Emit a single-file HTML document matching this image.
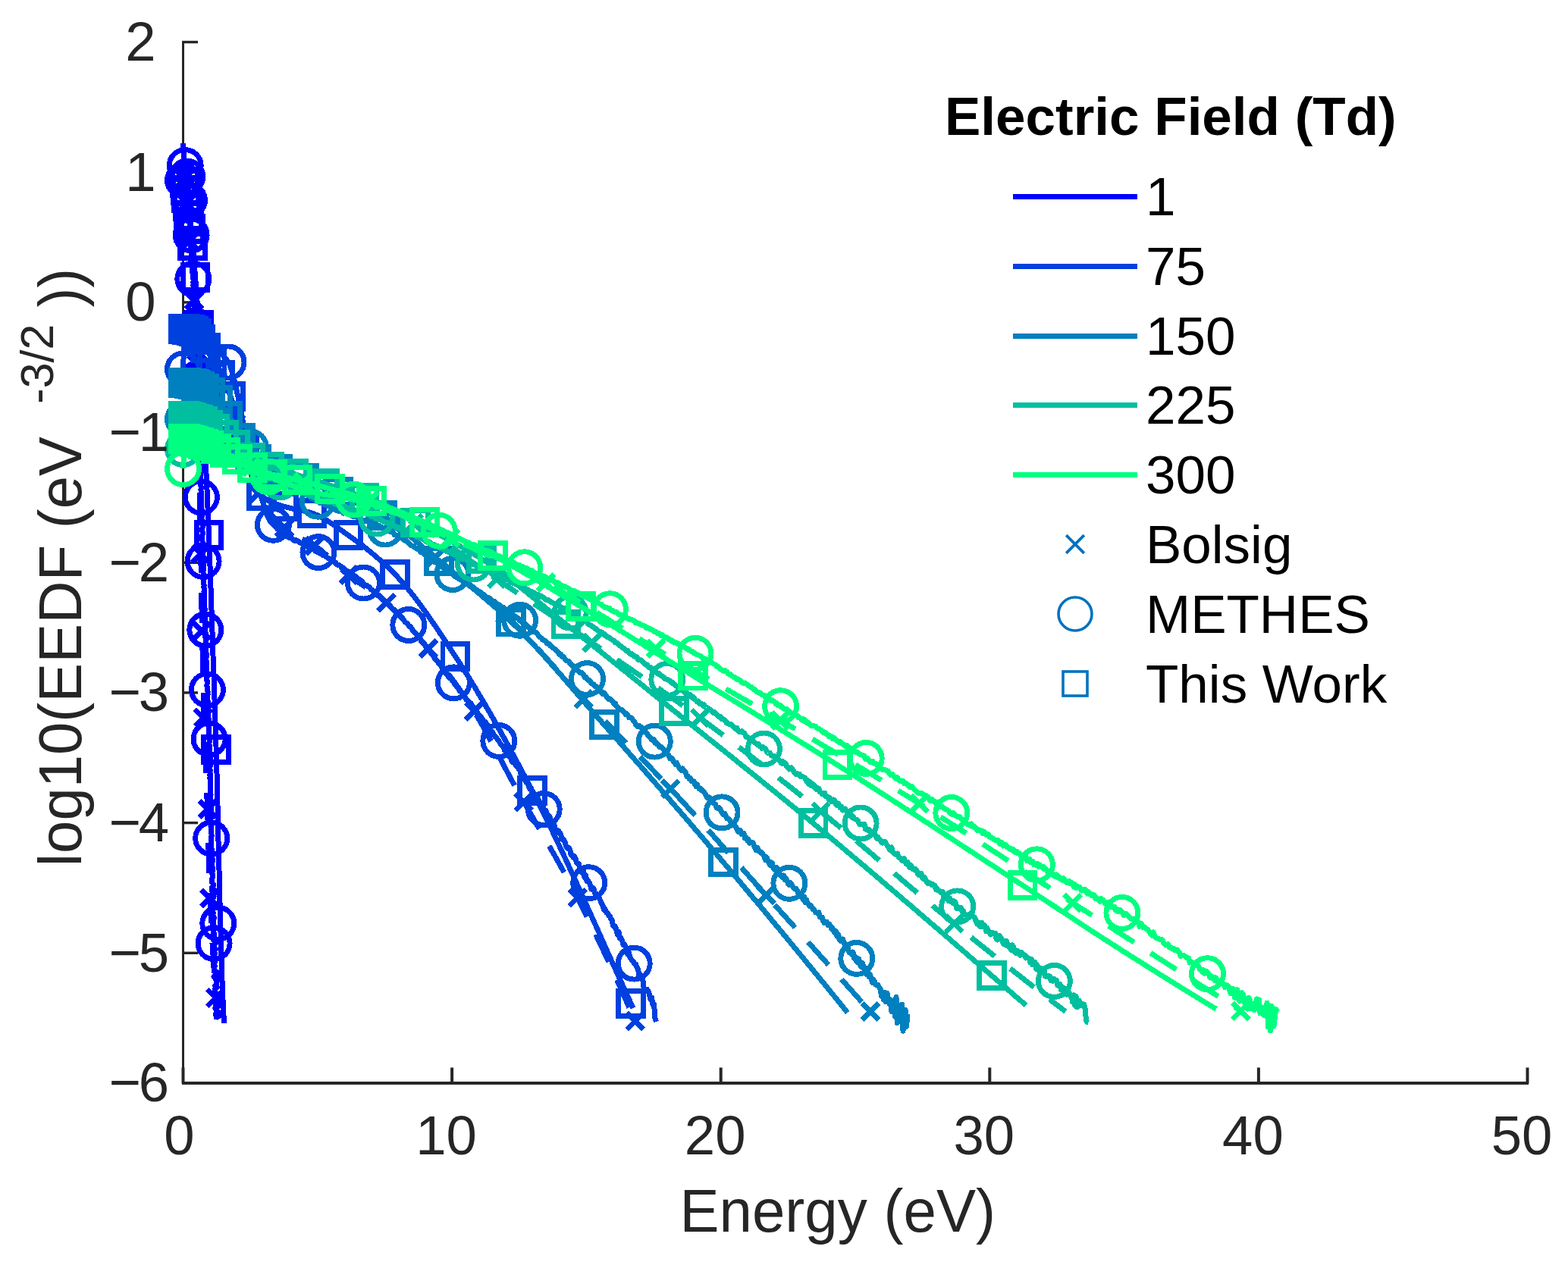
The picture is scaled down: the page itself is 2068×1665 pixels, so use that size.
<!DOCTYPE html>
<html><head><meta charset="utf-8"><title>EEDF</title>
<style>html,body{margin:0;padding:0;background:#fff;overflow:hidden}svg{display:block}</style>
</head><body>
<svg width="2068" height="1665" viewBox="0 0 2068 1665">
<rect width="2068" height="1665" fill="#fff"/>
<rect x="240" y="54" width="3" height="1377" fill="#262626"/>
<rect x="240" y="1427" width="1776" height="4" fill="#262626"/>
<rect x="240" y="53.8" width="21" height="3.4" fill="#262626"/>
<rect x="240" y="225.5" width="21" height="3.4" fill="#262626"/>
<rect x="240" y="397.2" width="21" height="3.4" fill="#262626"/>
<rect x="240" y="568.9" width="21" height="3.4" fill="#262626"/>
<rect x="240" y="740.6" width="21" height="3.4" fill="#262626"/>
<rect x="240" y="912.2" width="21" height="3.4" fill="#262626"/>
<rect x="240" y="1083.9" width="21" height="3.4" fill="#262626"/>
<rect x="240" y="1255.6" width="21" height="3.4" fill="#262626"/>
<rect x="240" y="1427.3" width="21" height="3.4" fill="#262626"/>
<rect x="239.5" y="1408.5" width="4" height="21" fill="#262626"/>
<rect x="594.1" y="1408.5" width="4" height="21" fill="#262626"/>
<rect x="948.7" y="1408.5" width="4" height="21" fill="#262626"/>
<rect x="1303.3" y="1408.5" width="4" height="21" fill="#262626"/>
<rect x="1657.9" y="1408.5" width="4" height="21" fill="#262626"/>
<rect x="2012.5" y="1408.5" width="4" height="21" fill="#262626"/>
<g fill="none" stroke-width="7" stroke-linejoin="round" shape-rendering="crispEdges">
<g><path d="M241.8 190 L241.9 193.9 L242.1 197.8 L242.2 201.6 L242.4 205.5 L242.6 209.4 L242.8 213.3 L243 217.2 L243.2 221 L243.4 224.9 L243.6 228.8 L243.8 232.7 L244 236.6 L244.3 240.4 L244.6 244.3 L244.9 248.2 L245.2 252.1 L245.5 256 L246 259.8 L246.4 263.7 L246.9 267.6 L247.4 271.5 L247.9 275.4 L248.4 279.2 L248.9 283.1 L249.3 287 L249.8 290.9 L250.3 294.7 L250.9 298.6 L251.4 302.5 L251.9 306.4 L252.4 310.3 L252.9 314.1 L253.3 318 L253.8 321.9 L254.2 325.8 L254.6 329.7 L254.9 333.5 L255.3 337.4 L255.6 341.3 L255.9 345.2 L256.3 349.1 L256.6 352.9 L256.9 356.8 L257.2 360.7 L257.5 364.6 L257.8 368.5 L258.1 372.3 L258.4 376.2 L258.7 380.1 L259 384 L259.3 387.9 L259.6 391.7 L259.9 395.6 L260.2 399.5 L260.4 403.4 L260.7 407.3 L261 411.1 L261.3 415 L261.5 418.9 L261.8 422.8 L262 426.7 L262.3 430.5 L262.5 434.4 L262.7 438.3 L263 442.2 L263.2 446.1 L263.4 449.9 L263.6 453.8 L263.8 457.7 L264.1 461.6 L264.3 465.5 L264.5 469.3 L264.7 473.2 L264.9 477.1 L265.1 481 L265.3 484.8 L265.5 488.7 L265.7 492.6 L265.9 496.5 L266.1 500.4 L266.3 504.2 L266.5 508.1 L266.7 512 L266.9 515.9 L267.1 519.8 L267.2 523.6 L267.4 527.5 L267.6 531.4 L267.8 535.3 L268 539.2 L268.2 543 L268.4 546.9 L268.6 550.8 L268.7 554.7 L268.9 558.6 L269.1 562.4 L269.3 566.3 L269.5 570.2 L269.7 574.1 L269.9 578 L270 581.8 L270.2 585.7 L270.4 589.6 L270.6 593.5 L270.8 597.4 L271 601.2 L271.1 605.1 L271.3 609 L271.5 612.9 L271.7 616.8 L271.9 620.6 L272 624.5 L272.2 628.4 L272.4 632.3 L272.6 636.2 L272.7 640 L272.9 643.9 L273.1 647.8 L273.2 651.7 L273.4 655.6 L273.6 659.4 L273.7 663.3 L273.9 667.2 L274.1 671.1 L274.2 674.9 L274.4 678.8 L274.6 682.7 L274.7 686.6 L274.9 690.5 L275 694.3 L275.2 698.2 L275.3 702.1 L275.5 706 L275.7 709.9 L275.8 713.7 L275.9 717.6 L276.1 721.5 L276.2 725.4 L276.4 729.3 L276.5 733.1 L276.7 737 L276.8 740.9 L276.9 744.8 L277.1 748.7 L277.2 752.5 L277.4 756.4 L277.5 760.3 L277.6 764.2 L277.8 768.1 L277.9 771.9 L278 775.8 L278.1 779.7 L278.3 783.6 L278.4 787.5 L278.5 791.3 L278.7 795.2 L278.8 799.1 L278.9 803 L279.1 806.9 L279.2 810.7 L279.3 814.6 L279.4 818.5 L279.6 822.4 L279.7 826.3 L279.8 830.1 L280 834 L280.1 837.9 L280.2 841.8 L280.4 845.7 L280.5 849.5 L280.6 853.4 L280.7 857.3 L280.9 861.2 L281 865.1 L281.1 868.9 L281.3 872.8 L281.4 876.7 L281.6 880.6 L281.7 884.4 L281.8 888.3 L282 892.2 L282.1 896.1 L282.2 900 L282.4 903.8 L282.5 907.7 L282.6 911.6 L282.8 915.5 L282.9 919.4 L283 923.2 L283.2 927.1 L283.3 931 L283.4 934.9 L283.6 938.8 L283.7 942.6 L283.8 946.5 L283.9 950.4 L284.1 954.3 L284.2 958.2 L284.3 962 L284.4 965.9 L284.6 969.8 L284.7 973.7 L284.8 977.6 L284.9 981.4 L285 985.3 L285.1 989.2 L285.2 993.1 L285.4 997 L285.5 1000.8 L285.6 1004.7 L285.7 1008.6 L285.8 1012.5 L285.9 1016.4 L286 1020.2 L286.1 1024.1 L286.2 1028 L286.3 1031.9 L286.3 1035.8 L286.4 1039.6 L286.5 1043.5 L286.6 1047.4 L286.7 1051.3 L286.8 1055.2 L286.9 1059 L287 1062.9 L287.1 1066.8 L287.2 1070.7 L287.2 1074.5 L287.3 1078.4 L287.4 1082.3 L287.5 1086.2 L287.6 1090.1 L287.7 1093.9 L287.8 1097.8 L287.9 1101.7 L287.9 1105.6 L288 1109.5 L288.1 1113.3 L288.2 1117.2 L288.3 1121.1 L288.4 1125 L288.5 1128.9 L288.6 1132.7 L288.7 1136.6 L288.8 1140.5 L288.9 1144.4 L289 1148.3 L289.1 1152.1 L289.2 1156 L289.2 1159.9 L289.3 1163.8 L289.4 1167.7 L289.5 1171.5 L289.6 1175.4 L289.7 1179.3 L289.8 1183.2 L289.9 1187.1 L290 1190.9 L290.1 1194.8 L290.2 1198.7 L290.3 1202.6 L290.4 1206.5 L290.5 1210.3 L290.6 1214.2 L290.7 1218.1 L290.8 1222 L290.9 1225.9 L291 1229.7 L291.1 1233.6 L291.2 1237.5 L291.3 1241.4 L291.4 1245.3 L291.5 1249.1 L291.6 1253 L291.8 1256.9 L291.9 1260.8 L292 1264.6 L292.1 1268.5 L292.2 1272.4 L292.4 1276.3 L292.5 1280.2 L292.6 1284 L292.8 1287.9 L292.9 1291.8 L293.1 1295.7 L293.2 1299.6 L293.4 1303.4 L293.5 1307.3 L293.7 1311.2 L293.9 1315.1 L294 1319 L294.2 1322.8 L294.4 1326.7 L294.6 1330.6 L294.8 1334.5 L294.9 1338.4 L295.1 1342.2 L295.3 1346.1 L295.5 1350" stroke="#0000FF" /><path d="M241.6 189 L241.8 192.9 L241.9 196.7 L242.1 200.6 L242.3 204.5 L242.5 208.3 L242.7 212.2 L242.9 216.1 L243.1 219.9 L243.4 223.8 L243.6 227.7 L243.8 231.5 L244.1 235.4 L244.3 239.3 L244.5 243.1 L244.8 247 L245.1 250.9 L245.3 254.7 L245.6 258.6 L245.9 262.5 L246.3 266.3 L246.6 270.2 L246.9 274.1 L247.3 277.9 L247.6 281.8 L248 285.7 L248.4 289.5 L248.7 293.4 L249.1 297.3 L249.4 301.1 L249.8 305 L250.1 308.9 L250.4 312.7 L250.7 316.6 L251 320.5 L251.3 324.3 L251.6 328.2 L251.9 332.1 L252.2 335.9 L252.5 339.8 L252.8 343.6 L253.1 347.5 L253.3 351.4 L253.6 355.2 L253.9 359.1 L254.1 363 L254.4 366.8 L254.7 370.7 L254.9 374.6 L255.1 378.4 L255.4 382.3 L255.6 386.2 L255.8 390 L256 393.9 L256.2 397.8 L256.3 401.6 L256.5 405.5 L256.7 409.4 L256.8 413.2 L257 417.1 L257.2 421 L257.3 424.8 L257.5 428.7 L257.6 432.6 L257.8 436.4 L257.9 440.3 L258.1 444.2 L258.2 448 L258.4 451.9 L258.5 455.8 L258.6 459.6 L258.8 463.5 L258.9 467.4 L259 471.2 L259.1 475.1 L259.3 479 L259.4 482.8 L259.5 486.7 L259.6 490.6 L259.8 494.4 L259.9 498.3 L260 502.2 L260.1 506 L260.2 509.9 L260.3 513.8 L260.4 517.6 L260.5 521.5 L260.6 525.4 L260.7 529.2 L260.8 533.1 L260.9 537 L261 540.8 L261.1 544.7 L261.2 548.6 L261.3 552.4 L261.4 556.3 L261.5 560.2 L261.6 564 L261.7 567.9 L261.8 571.8 L261.9 575.6 L261.9 579.5 L262 583.4 L262.1 587.2 L262.2 591.1 L262.3 595 L262.4 598.8 L262.4 602.7 L262.5 606.6 L262.6 610.4 L262.7 614.3 L262.7 618.2 L262.8 622 L262.9 625.9 L262.9 629.7 L263 633.6 L263.1 637.5 L263.2 641.3 L263.2 645.2 L263.3 649.1 L263.4 652.9 L263.4 656.8 L263.5 660.7 L263.6 664.5 L263.6 668.4 L263.7 672.3 L263.8 676.1 L263.8 680 L263.9 683.9 L263.9 687.7 L264 691.6 L264.1 695.5 L264.1 699.3 L264.2 703.2 L264.3 707.1 L264.3 710.9 L264.4 714.8 L264.5 718.7 L264.6 722.5 L264.6 726.4 L264.7 730.3 L264.8 734.1 L264.8 738 L264.9 741.9 L265 745.7 L265 749.6 L265.1 753.5 L265.2 757.3 L265.2 761.2 L265.3 765.1 L265.4 768.9 L265.4 772.8 L265.5 776.7 L265.6 780.5 L265.6 784.4 L265.7 788.3 L265.8 792.1 L265.8 796 L265.9 799.9 L266 803.7 L266 807.6 L266.1 811.5 L266.2 815.3 L266.2 819.2 L266.3 823.1 L266.4 826.9 L266.5 830.8 L266.5 834.7 L266.6 838.5 L266.7 842.4 L266.8 846.3 L266.8 850.1 L266.9 854 L267 857.9 L267.1 861.7 L267.1 865.6 L267.2 869.5 L267.3 873.3 L267.4 877.2 L267.5 881.1 L267.5 884.9 L267.6 888.8 L267.7 892.7 L267.8 896.5 L267.9 900.4 L267.9 904.3 L268 908.1 L268.1 912 L268.2 915.8 L268.3 919.7 L268.4 923.6 L268.5 927.4 L268.6 931.3 L268.7 935.2 L268.8 939 L268.9 942.9 L269 946.8 L269.1 950.6 L269.2 954.5 L269.3 958.4 L269.5 962.2 L269.6 966.1 L269.7 970 L269.9 973.8 L270 977.7 L270.1 981.6 L270.3 985.4 L270.4 989.3 L270.6 993.2 L270.7 997 L270.9 1000.9 L271.1 1004.8 L271.2 1008.6 L271.4 1012.5 L271.5 1016.4 L271.7 1020.2 L271.9 1024.1 L272 1028 L272.2 1031.8 L272.3 1035.7 L272.5 1039.6 L272.6 1043.4 L272.8 1047.3 L272.9 1051.2 L273.1 1055 L273.2 1058.9 L273.3 1062.8 L273.5 1066.6 L273.6 1070.5 L273.7 1074.4 L273.8 1078.2 L274 1082.1 L274.1 1086 L274.2 1089.8 L274.3 1093.7 L274.4 1097.6 L274.5 1101.4 L274.6 1105.3 L274.7 1109.2 L274.8 1113 L274.9 1116.9 L275 1120.8 L275.1 1124.6 L275.2 1128.5 L275.3 1132.4 L275.4 1136.2 L275.5 1140.1 L275.6 1144 L275.8 1147.8 L275.9 1151.7 L276 1155.6 L276.1 1159.4 L276.2 1163.3 L276.4 1167.2 L276.5 1171 L276.6 1174.9 L276.8 1178.8 L276.9 1182.6 L277.1 1186.5 L277.2 1190.4 L277.4 1194.2 L277.5 1198.1 L277.7 1201.9 L277.9 1205.8 L278.1 1209.7 L278.3 1213.5 L278.5 1217.4 L278.7 1221.3 L278.9 1225.1 L279.1 1229 L279.3 1232.9 L279.6 1236.7 L279.8 1240.6 L280 1244.5 L280.3 1248.3 L280.5 1252.2 L280.7 1256.1 L281 1259.9 L281.2 1263.8 L281.4 1267.7 L281.7 1271.5 L281.9 1275.4 L282.2 1279.3 L282.4 1283.1 L282.6 1287 L282.9 1290.9 L283.1 1294.7 L283.4 1298.6 L283.6 1302.5 L283.8 1306.3 L284 1310.2 L284.3 1314.1 L284.5 1317.9 L284.7 1321.8 L284.9 1325.7 L285.1 1329.5 L285.3 1333.4 L285.6 1337.3 L285.8 1341.1 L286 1345" stroke="#0000FF" stroke-dasharray="40 26"/><path d="M241.5 238 L243.8 218.5 L244.9 220.5 L244.5 222.5 L245.8 224.5 L245.7 226.5 L246.2 228.5 L246.6 230.5 L246.8 232.5 L247.2 234.5 L247.3 236.5 L247.2 238.5 L247.9 240.5 L247.5 242.5 L248.3 244.5 L248.5 246.5 L248.7 248.5 L248.3 250.5 L249 252.5 L249.4 254.5 L248.9 256.5 L248.8 258.5 L249.3 260.5 L249.9 262.5 L249.1 264.5 L249.1 266.5 L249.8 268.5 L250.1 270.5 L250.4 272.5 L250 274.5 L250.9 276.5 L250.1 278.5 L250.8 280.5 L250.2 282.5 L250.2 284.5 L250.4 286.5 L250.5 288.5 L251.1 290.5 L251.3 292.5 L250.9 294.5 L251.9 296.5 L251.4 298.5 L251.2 300.5 L251.3 302.5 L252.1 304.5 L252.4 306.5 L251.6 308.5 L251.6 310.5 L252.6 312.5 L252 314.5 L253 316.5 L252.5 318.5 L252.8 320.5 L252.5 322.5 L253.2 324.5 L252.9 326.5 L252.8 328.5 L253.6 330.5 L252.7 332.5 L253.6 334.5 L252.9 336.5 L253.6 338.5 L253.4 340.5 L254.1 342.5 L253.2 344.5 L253.9 346.5 L253.8 348.5 L254.5 350.5 L254.6 352.5 L254.3 354.5 L254 356.5 L254.1 358.5 L254.2 360.5 L254.5 362.5 L254.3 364.5 L254.4 366.5 L255.1 368.5 L255.1 370.5 L254.8 372.5 L255.7 374.5 L254.8 376.5 L255.4 378.5 L255 380.5 L255.9 382.5 L256 384.5 L255.4 386.5 L256 388.5 L256.2 390.5 L255.6 392.5 L255.8 394.5 L256.1 396.5 L256.6 398.5 L255.8 400.5 L256.6 402.5 L256.5 404.5 L256.5 406.5 L256.7 408.5 L257.1 410.5 L256.4 412.5 L257.3 414.5 L256.8 416.5 L257.4 418.5 L257.5 420.5 L256.8 422.5 L257.7 424.5 L258 426.5 L257.2 428.5 L256.9 430.5 L257.1 432.5 L258.2 434.5 L257.2 436.5 L258.3 438.5 L257.5 440.5 L258.3 442.5 L257.6 444.5 L257.7 446.5 L258.4 448.5 L257.8 450.5 L258.2 452.5 L258.9 454.5 L258.8 456.5 L259.1 458.5 L259.2 460.5 L258.2 462.5 L258.5 464.5 L259.2 466.5 L259.2 468.5 L258.5 470.5 L259.1 472.5 L258.9 474.5 L259.2 476.5 L258.8 478.5 L258.8 480.5 L260.1 482.5 L259.3 484.5 L260.1 486.5 L259.2 488.5 L259.7 490.5 L259.4 492.5 L259.8 494.5 L259.6 496.5 L260.3 498.5 L259.7 500.5 L260.5 502.5 L260.3 504.5 L259.9 506.5 L260.2 508.5 L260.5 510.5 L261.1 512.5 L260.5 514.5 L260.4 516.5 L261.3 518.5 L261.3 520.5 L261.2 522.5 L260.7 524.5 L260.7 526.5 L260.9 528.5 L260.7 530.5 L260.7 532.5 L261.4 534.5 L261.3 536.5 L261.6 538.5 L261.4 540.5 L261.1 542.5 L262 544.5 L262 546.5 L261.9 548.5 L262 550.5 L262.2 552.5 L262.7 554.5 L262.6 556.5 L262.5 558.5 L262.2 560.5 L262.2 562.5 L262.3 564.5 L263.1 566.5 L262.4 568.5 L262.5 570.5 L262.6 572.5 L262.4 574.5 L263.4 576.5 L262.3 578.5 L263.1 580.5 L263.6 582.5 L262.8 584.5 L263.3 586.5 L263.1 588.5 L263 590.5 L263 592.5 L263 594.5 L263.9 596.5 L263.9 598.5 L264.1 600.5 L263.2 602.5 L264 604.5 L263.6 606.5 L264.1 608.5 L264 610.5 L263.8 612.5 L264.7 614.5 L263.6 616.5 L264.5 618.5 L264.7 620.5 L264.4 622.5 L264.5 624.5 L265.1 626.5 L264.2 628.5 L264.7 630.5 L264.9 632.5 L264.6 634.5 L265 636.5 L264.7 638.5 L264.9 640.5 L265.1 642.5 L265.2 644.5 L264.9 646.5 L265.3 648.5 L265.3 650.5 L265 652.5 L265.5 654.5 L265.1 656.5 L266 658.5 L265.5 660.5 L265.9 662.5 L265.7 664.5 L265.7 666.5 L265.5 668.5 L265.4 670.5 L266.4 672.5 L266 674.5 L266.1 676.5 L266.2 678.5 L266.6 680.5 L265.9 682.5 L265.9 684.5 L266.8 686.5 L266.4 688.5 L266.7 690.5 L267 692.5 L267.1 694.5 L267.1 696.5 L266.2 698.5 L266.7 700.5 L267.3 702.5 L267.3 704.5 L266.6 706.5 L266.7 708.5 L266.9 710.5 L266.7 712.5 L267.1 714.5 L267.7 716.5 L267.4 718.5 L267.4 720.5 L267 722.5 L267.5 724.5 L268.3 726.5 L268 728.5 L267.7 730.5 L267.8 732.5 L268.3 734.5 L268.3 736.5 L267.6 738.5 L268.3 740.5 L268 742.5 L268.2 744.5 L268 746.5 L268.2 748.5 L268.2 750.5 L268.3 752.5 L267.9 754.5 L268.2 756.5 L268.7 758.5 L268.2 760.5 L268.4 762.5 L269.1 764.5 L268.6 766.5 L268.7 768.5 L268.7 770.5 L269.5 772.5 L268.6 774.5 L269.3 776.5 L269.7 778.5 L268.9 780.5 L269.3 782.5 L269.8 784.5 L269.6 786.5 L269.4 788.5 L269 790.5 L269.6 792.5 L269.5 794.5 L270 796.5 L269.6 798.5 L269.8 800.5 L270.1 802.5 L270.4 804.5 L269.9 806.5 L270 808.5 L270.3 810.5 L270.7 812.5 L269.9 814.5 L270.9 816.5 L270.7 818.5 L270.3 820.5 L270.7 822.5 L270.4 824.5 L270.1 826.5 L271 828.5 L270.6 830.5 L270.9 832.5 L270.9 834.5 L271.5 836.5 L271.3 838.5 L270.5 840.5 L271.3 842.5 L271.2 844.5 L271.2 846.5 L271.8 848.5 L271.3 850.5 L271.4 852.5 L272 854.5 L271.5 856.5 L271.7 858.5 L271.7 860.5 L272.2 862.5 L272.1 864.5 L272.2 866.5 L271.9 868.5 L271.5 870.5 L272.3 872.5 L272.2 874.5 L272.6 876.5 L272.6 878.5 L271.9 880.5 L272.1 882.5 L272 884.5 L273 886.5 L272.2 888.5 L272.2 890.5 L273.1 892.5 L272.9 894.5 L272.4 896.5 L273.2 898.5 L273.3 900.5 L273.1 902.5 L272.7 904.5 L273.5 906.5 L273.2 908.5 L273.5 910.5 L274.1 912.5 L274 914.5 L274.1 916.5 L273.3 918.5 L273.6 920.5 L273.9 922.5 L273.4 924.5 L274.7 926.5 L273.9 928.5 L274 930.5 L274.1 932.5 L274.2 934.5 L275 936.5 L274.7 938.5 L274.7 940.5 L274.7 942.5 L274.4 944.5 L274.8 946.5 L275.5 948.5 L275.5 950.5 L275.7 952.5 L275.1 954.5 L275.1 956.5 L275 958.5 L275.6 960.5 L275.5 962.5 L275.7 964.5 L275.8 966.5 L276 968.5 L275.8 970.5 L276.4 972.5 L275.7 974.5 L276.6 976.5 L276.3 978.5 L275.7 980.5 L276.1 982.5 L276.4 984.5 L276.3 986.5 L276.5 988.5 L276.3 990.5 L276.3 992.5 L276.9 994.5 L276.4 996.5 L276.9 998.5 L277.1 1000.5 L276.9 1002.5 L276.8 1004.5 L277.4 1006.5 L276.8 1008.5 L277.4 1010.5 L276.4 1012.5 L276.9 1014.5 L277.2 1016.5 L276.5 1018.5 L277.6 1020.5 L276.6 1022.5 L277.3 1024.5 L276.8 1026.5 L277.8 1028.5 L277.4 1030.5 L277.7 1032.5 L277.4 1034.5 L277.6 1036.5 L277.7 1038.5 L277.2 1040.5 L277.2 1042.5 L277.9 1044.5 L277.2 1046.5 L278.1 1048.5 L277.3 1050.5 L277.2 1052.5 L277.2 1054.5 L278.1 1056.5 L278.3 1058.5 L277.7 1060.5 L278 1062.5 L277.6 1064.5 L278.4 1066.5 L278.2 1068.5 L277.6 1070.5 L277.5 1072.5 L278.3 1074.5 L277.5 1076.5 L278.5 1078.5 L277.9 1080.5 L277.9 1082.5 L278.3 1084.5 L278.1 1086.5 L278.4 1088.5 L277.9 1090.5 L278.9 1092.5 L278.2 1094.5 L278.9 1096.5 L278.1 1098.5 L278.9 1100.5 L279.2 1102.5 L278.5 1104.5 L278.1 1106.5 L278.6 1108.5 L279 1110.5 L278.5 1112.5 L279 1114.5 L278.3 1116.5 L278.9 1118.5 L279.4 1120.5 L279 1122.5 L279.4 1124.5 L278.5 1126.5 L279.8 1128.5 L278.6 1130.5 L280.1 1132.5 L280.3 1134.5 L280.3 1136.5 L279.5 1138.5 L279.1 1140.5 L279.3 1142.5 L280.2 1144.5 L279.7 1146.5 L280.7 1148.5 L278.9 1150.5 L279.8 1152.5 L280.7 1154.5 L280.2 1156.5 L280.1 1158.5 L279.1 1160.5 L279.2 1162.5 L279.6 1164.5 L281.2 1166.5 L281.2 1168.5 L279.6 1170.5 L281.5 1172.5 L279.2 1174.5 L280.8 1176.5 L281.9 1178.5 L280.2 1180.5 L282 1182.5 L281.2 1184.5 L279.5 1186.5 L280.3 1188.5 L280.8 1190.5 L280.2 1192.5 L281.8 1194.5 L280.1 1196.5 L282.1 1198.5 L280.5 1200.5 L279.8 1202.5 L281.5 1204.5 L280 1206.5 L281.6 1208.5 L282.5 1210.5 L281.9 1212.5 L281.5 1214.5 L280 1216.5 L281.8 1218.5 L280.4 1220.5 L282.4 1222.5 L280.6 1224.5 L282.3 1226.5 L281.5 1228.5 L281.7 1230.5 L282.9 1232.5 L281 1234.5 L281.1 1236.5 L284.2 1238.5 L281.8 1240.5 L284 1242.5 L284.2 1244.5 L282.7 1246.5 L281.3 1248.5 L281.1 1250.5 L284.6 1252.5 L281.4 1254.5 L283.1 1256.5 L283.4 1258.5 L281.6 1260.5 L283.2 1262.5 L281.9 1264.5 L283.7 1266.5 L283.6 1268.5 L283.1 1270.5 L282.3 1272.5 L283.4 1274.5 L282.5 1276.5 L282.2 1278.5 L282.8 1280.5 L286 1282.5 L284.3 1284.5 L286.3 1286.5 L282 1288.5 L286.8 1290.5 L284.6 1292.5 L286.3 1294.5 L285.2 1296.5 L285.9 1298.5 L283.6 1300.5 L286.5 1302.5 L283.4 1304.5 L284 1306.5 L282.9 1308.5 L284.9 1310.5 L285.7 1312.5 L284.5 1314.5 L288 1316.5 L283.6 1318.5 L286.5 1320.5 L284.6 1322.5 L286.8 1324.5 L288 1326.5 L287.6 1328.5 L283.9 1330.5 L285.1 1332.5 L287.3 1334.5 L289.7 1336.5 L284.1 1338.5 L287.7 1340.5 L288.3 1342.5 L289.2 1344.5" stroke="#0000FF" /><rect x="268.7" y="972.6" width="32.8" height="32.8" stroke="#0000FF" stroke-width="6.9" stroke-linejoin="miter"/><rect x="259.1" y="689.8" width="32.8" height="32.8" stroke="#0000FF" stroke-width="6.9" stroke-linejoin="miter"/><rect x="251.6" y="523" width="32.8" height="32.8" stroke="#0000FF" stroke-width="6.9" stroke-linejoin="miter"/><rect x="245.8" y="412.5" width="32.8" height="32.8" stroke="#0000FF" stroke-width="6.9" stroke-linejoin="miter"/><rect x="241.2" y="349.6" width="32.8" height="32.8" stroke="#0000FF" stroke-width="6.9" stroke-linejoin="miter"/><rect x="237.7" y="308.1" width="32.8" height="32.8" stroke="#0000FF" stroke-width="6.9" stroke-linejoin="miter"/><rect x="234.9" y="285.4" width="32.8" height="32.8" stroke="#0000FF" stroke-width="6.9" stroke-linejoin="miter"/><rect x="232.7" y="268.8" width="32.8" height="32.8" stroke="#0000FF" stroke-width="6.9" stroke-linejoin="miter"/><rect x="231" y="255.8" width="32.8" height="32.8" stroke="#0000FF" stroke-width="6.9" stroke-linejoin="miter"/><rect x="229.7" y="245.1" width="32.8" height="32.8" stroke="#0000FF" stroke-width="6.9" stroke-linejoin="miter"/><rect x="228.7" y="234.9" width="32.8" height="32.8" stroke="#0000FF" stroke-width="6.9" stroke-linejoin="miter"/><rect x="227.9" y="224.5" width="32.8" height="32.8" stroke="#0000FF" stroke-width="6.9" stroke-linejoin="miter"/><path d="M232 225L254 247M232 247L254 225" stroke="#0000FF" stroke-width="6.9"/><path d="M235 257L257 279M235 279L257 257" stroke="#0000FF" stroke-width="6.9"/><path d="M239 307L261 329M239 329L261 307" stroke="#0000FF" stroke-width="6.9"/><path d="M245.1 385.6L267.1 407.6M245.1 407.6L267.1 385.6" stroke="#0000FF" stroke-width="6.9"/><path d="M248.5 469L270.5 491M248.5 491L270.5 469" stroke="#0000FF" stroke-width="6.9"/><path d="M251 549L273 571M251 571L273 549" stroke="#0000FF" stroke-width="6.9"/><path d="M253.7 719.8L275.7 741.8M253.7 741.8L275.7 719.8" stroke="#0000FF" stroke-width="6.9"/><path d="M254.8 821.4L276.8 843.4M254.8 843.4L276.8 821.4" stroke="#0000FF" stroke-width="6.9"/><path d="M257 936L279 958M257 958L279 936" stroke="#0000FF" stroke-width="6.9"/><path d="M263.1 1056.6L285.1 1078.6M263.1 1078.6L285.1 1056.6" stroke="#0000FF" stroke-width="6.9"/><path d="M265.4 1174.2L287.4 1196.2M265.4 1196.2L287.4 1174.2" stroke="#0000FF" stroke-width="6.9"/><path d="M273.4 1305.5L295.4 1327.5M273.4 1327.5L295.4 1305.5" stroke="#0000FF" stroke-width="6.9"/><circle cx="241.5" cy="238" r="21" stroke="#0000FF" stroke-width="6.9"/><circle cx="244.2" cy="218.5" r="21" stroke="#0000FF" stroke-width="6.9"/><circle cx="246.8" cy="233" r="21" stroke="#0000FF" stroke-width="6.9"/><circle cx="249.5" cy="264" r="21" stroke="#0000FF" stroke-width="6.9"/><circle cx="252.1" cy="310" r="21" stroke="#0000FF" stroke-width="6.9"/><circle cx="254.8" cy="368" r="21" stroke="#0000FF" stroke-width="6.9"/><circle cx="257.5" cy="430" r="21" stroke="#0000FF" stroke-width="6.9"/><circle cx="260.1" cy="500" r="21" stroke="#0000FF" stroke-width="6.9"/><circle cx="262.8" cy="575" r="21" stroke="#0000FF" stroke-width="6.9"/><circle cx="265.4" cy="656" r="21" stroke="#0000FF" stroke-width="6.9"/><circle cx="268.1" cy="740.5" r="21" stroke="#0000FF" stroke-width="6.9"/><circle cx="270.8" cy="831" r="21" stroke="#0000FF" stroke-width="6.9"/><circle cx="273.4" cy="910" r="21" stroke="#0000FF" stroke-width="6.9"/><circle cx="276.1" cy="975" r="21" stroke="#0000FF" stroke-width="6.9"/><circle cx="278.7" cy="1106" r="21" stroke="#0000FF" stroke-width="6.9"/><circle cx="282.1" cy="1244.6" r="21" stroke="#0000FF" stroke-width="6.9"/><circle cx="287.8" cy="1218.3" r="21" stroke="#0000FF" stroke-width="6.9"/></g>
<g><path d="M241.5 434.3 L244.5 434.4 L247.6 434.8 L250.6 435.4 L253.6 436.2 L256.6 437.3 L259.7 440.3 L262.7 444.9 L265.7 449.6 L268.8 454.7 L271.8 460 L274.8 465.3 L277.8 470.8 L280.9 476.4 L283.9 482.2 L286.9 488.1 L289.9 494.1 L293 499.9 L296 505.5 L299 511.3 L302.1 517.8 L305.1 525.4 L308.1 535.3 L311.1 547 L314.2 559.6 L317.2 572.2 L320.2 583.9 L323.3 594.2 L326.3 604.6 L329.3 615.2 L332.3 625.5 L335.4 635 L338.4 643.3 L341.4 649.7 L344.5 653.8 L347.5 656.2 L350.5 658.3 L353.5 660.1 L356.6 661.7 L359.6 663 L362.6 664.2 L365.7 665.3 L368.7 666.3 L371.7 667.3 L374.7 668.3 L377.8 669.2 L380.8 669.9 L383.8 670.6 L386.8 671.3 L389.9 671.9 L392.9 672.5 L395.9 673.1 L399 673.7 L402 674.4 L405 675.1 L408 675.9 L411.1 676.9 L414.1 678 L417.1 679.2 L420.2 680.6 L423.2 682.1 L426.2 683.8 L429.2 685.5 L432.3 687.4 L435.3 689.3 L438.3 691.3 L441.4 693.4 L444.4 695.5 L447.4 697.6 L450.4 699.8 L453.5 702 L456.5 704.1 L459.5 706.2 L462.5 708.4 L465.6 710.5 L468.6 712.7 L471.6 715 L474.7 717.2 L477.7 719.5 L480.7 721.9 L483.7 724.3 L486.8 726.7 L489.8 729.1 L492.8 731.7 L495.9 734.2 L498.9 736.9 L501.9 739.5 L504.9 742.3 L508 745 L511 747.9 L514 750.8 L517.1 753.8 L520.1 756.8 L523.1 759.9 L526.1 763.2 L529.2 766.5 L532.2 769.9 L535.2 773.5 L538.2 777.1 L541.3 780.9 L544.3 784.7 L547.3 788.6 L550.4 792.6 L553.4 796.7 L556.4 800.8 L559.4 805 L562.5 809.3 L565.5 813.6 L568.5 818 L571.6 822.4 L574.6 826.8 L577.6 831.3 L580.6 835.9 L583.7 840.4 L586.7 845 L589.7 849.6 L592.8 854.2 L595.8 858.8 L598.8 863.4 L601.8 868 L604.9 872.7 L607.9 877.4 L610.9 882.2 L614 887 L617 891.8 L620 896.7 L623 901.7 L626.1 906.6 L629.1 911.7 L632.1 916.7 L635.1 921.8 L638.2 927 L641.2 932.2 L644.2 937.4 L647.3 942.6 L650.3 947.9 L653.3 953.3 L656.3 958.6 L659.4 964 L662.4 969.5 L665.4 974.9 L668.5 980.4 L671.5 986 L674.5 991.5 L677.5 997.1 L680.6 1002.8 L683.6 1008.4 L686.6 1014.1 L689.7 1019.8 L692.7 1025.5 L695.7 1031.3 L698.7 1037.1 L701.8 1042.9 L704.8 1048.7 L707.8 1054.7 L710.8 1060.6 L713.9 1066.7 L716.9 1072.8 L719.9 1078.9 L723 1085.1 L726 1091.4 L729 1097.6 L732 1104 L735.1 1110.4 L738.1 1116.8 L741.1 1123.2 L744.2 1129.7 L747.2 1136.2 L750.2 1142.8 L753.2 1149.4 L756.3 1156 L759.3 1162.6 L762.3 1169.3 L765.4 1175.9 L768.4 1182.6 L771.4 1189.3 L774.4 1196 L777.5 1202.8 L780.5 1209.5 L783.5 1216.3 L786.6 1223 L789.6 1229.8 L792.6 1236.5 L795.6 1243.3 L798.7 1250 L801.7 1256.8 L804.7 1263.5 L807.7 1270.2 L810.8 1276.9 L813.8 1283.6 L816.8 1290.3 L819.9 1297 L822.9 1303.6 L825.9 1310.2 L828.9 1316.8 L832 1323.4 L835 1330" stroke="#0040DF" /><path d="M241.5 436 L244.5 436.2 L247.6 436.9 L250.6 437.8 L253.6 439 L256.6 440.3 L259.7 442.5 L262.7 445.6 L265.7 449.2 L268.7 452.9 L271.8 457.1 L274.8 461.9 L277.8 467.1 L280.8 472.8 L283.9 478.8 L286.9 485.5 L289.9 492.7 L293 500.4 L296 508.6 L299 517.1 L302 526.2 L305.1 536.4 L308.1 547.4 L311.1 558.7 L314.1 569.9 L317.2 580.7 L320.2 590.6 L323.2 600.2 L326.3 610 L329.3 619.6 L332.3 628.9 L335.3 637.8 L338.4 645.9 L341.4 653 L344.4 659 L347.4 664 L350.5 668.6 L353.5 673 L356.5 677 L359.5 680.8 L362.6 684.3 L365.6 687.5 L368.6 690.6 L371.7 693.4 L374.7 696.1 L377.7 698.6 L380.7 700.9 L383.8 703.1 L386.8 705 L389.8 706.8 L392.8 708.5 L395.9 710 L398.9 711.5 L401.9 713 L405 714.5 L408 716.1 L411 717.7 L414 719.5 L417.1 721.4 L420.1 723.5 L423.1 725.8 L426.1 728.3 L429.2 731 L432.2 733.8 L435.2 736.6 L438.2 739.6 L441.3 742.5 L444.3 745.4 L447.3 748.3 L450.4 751 L453.4 753.7 L456.4 756.2 L459.4 758.5 L462.5 760.8 L465.5 763 L468.5 765.2 L471.5 767.3 L474.6 769.4 L477.6 771.4 L480.6 773.5 L483.7 775.5 L486.7 777.6 L489.7 779.7 L492.7 781.8 L495.8 784 L498.8 786.3 L501.8 788.7 L504.8 791.1 L507.9 793.6 L510.9 796.3 L513.9 799.1 L516.9 801.9 L520 804.9 L523 807.9 L526 811.1 L529.1 814.3 L532.1 817.5 L535.1 820.9 L538.1 824.3 L541.2 827.7 L544.2 831.2 L547.2 834.7 L550.2 838.3 L553.3 841.9 L556.3 845.5 L559.3 849.1 L562.4 852.8 L565.4 856.5 L568.4 860.1 L571.4 863.8 L574.5 867.6 L577.5 871.4 L580.5 875.2 L583.5 879 L586.6 882.9 L589.6 886.9 L592.6 890.9 L595.6 894.9 L598.7 899.1 L601.7 903.2 L604.7 907.5 L607.8 911.8 L610.8 916.2 L613.8 920.6 L616.8 925.2 L619.9 929.8 L622.9 934.5 L625.9 939.4 L628.9 944.5 L632 949.6 L635 954.9 L638 960.3 L641.1 965.8 L644.1 971.3 L647.1 977 L650.1 982.6 L653.2 988.4 L656.2 994.1 L659.2 999.9 L662.2 1005.6 L665.3 1011.4 L668.3 1017.1 L671.3 1022.8 L674.3 1028.4 L677.4 1034 L680.4 1039.5 L683.4 1044.9 L686.5 1050.3 L689.5 1055.6 L692.5 1060.9 L695.5 1066.2 L698.6 1071.5 L701.6 1076.7 L704.6 1082 L707.6 1087.2 L710.7 1092.4 L713.7 1097.7 L716.7 1102.9 L719.8 1108.1 L722.8 1113.4 L725.8 1118.7 L728.8 1124 L731.9 1129.3 L734.9 1134.7 L737.9 1140.1 L740.9 1145.5 L744 1151 L747 1156.6 L750 1162.2 L753 1167.9 L756.1 1173.6 L759.1 1179.4 L762.1 1185.3 L765.2 1191.2 L768.2 1197.2 L771.2 1203.3 L774.2 1209.4 L777.3 1215.5 L780.3 1221.7 L783.3 1227.9 L786.3 1234.2 L789.4 1240.6 L792.4 1246.9 L795.4 1253.4 L798.5 1259.8 L801.5 1266.3 L804.5 1272.9 L807.5 1279.5 L810.6 1286.1 L813.6 1292.8 L816.6 1299.6 L819.6 1306.3 L822.7 1313.1 L825.7 1320 L828.7 1326.9 L831.7 1333.8 L834.8 1340.8 L837.8 1347.8" stroke="#0040DF" stroke-dasharray="40 26"/><path d="M241.5 486.6 L243 449.3 L244.5 450.3 L246 449.2 L247.5 450.1 L249 449.8 L250.5 449.3 L252 450.3 L253.5 449.4 L255 450.3 L256.5 449.7 L258 449.9 L259.5 450.7 L261 451.6 L262.5 450.3 L264 450.7 L265.5 451.7 L267 452.5 L268.5 452 L270 451.8 L271.5 453.2 L273 451.7 L274.5 453.9 L276 453.3 L277.5 453.8 L279 454.5 L280.5 455.8 L282 457.9 L283.5 457.8 L285 459.8 L286.5 461.2 L288 462.1 L289.5 464 L291 464.6 L292.5 466.2 L294 468.3 L295.5 471.1 L297 472.5 L298.5 474.2 L300 476.8 L301.5 478.7 L303 481.2 L304.5 486 L306 490.3 L307.5 494.5 L309 501 L310.5 507.2 L312 514.6 L313.5 521.5 L315 528 L316.5 536.9 L318 542.9 L319.5 551.3 L321 559.7 L322.5 566.1 L324 574.1 L325.5 580.3 L327 588.3 L328.5 594.8 L330 600.1 L331.5 606.3 L333 610.9 L334.5 617.5 L336 623.2 L337.5 629 L339 634.7 L340.5 641.3 L342 647.2 L343.5 651.8 L345 657.6 L346.5 661.6 L348 667.7 L349.5 672.2 L351 677.1 L352.5 680.5 L354 682.8 L355.5 685.8 L357 688.7 L358.5 689.2 L360 691.8 L361.5 692.8 L363 694.2 L364.5 695.5 L366 698.3 L367.5 698.3 L369 699.8 L370.5 701.3 L372 703.4 L373.5 702.9 L375 704.7 L376.5 705.9 L378 707.6 L379.5 708.4 L381 709.3 L382.5 709 L384 710.1 L385.5 710.8 L387 712.6 L388.5 713.5 L390 712.6 L391.5 713.4 L393 714.2 L394.5 714.9 L396 716.1 L397.5 717 L399 717.1 L400.5 717.2 L402 718.7 L403.5 719.4 L405 720.5 L406.5 722 L408 722.2 L409.5 722.6 L411 723.6 L412.5 724.5 L414 724.1 L415.5 726.7 L417 727.3 L418.5 728.5 L420 729.3 L421.5 729.4 L423 730.4 L424.5 730.8 L426 732.8 L427.5 732.6 L429 733.6 L430.5 734.9 L432 735.7 L433.5 737 L435 737.4 L436.5 738.3 L438 739.5 L439.5 740.4 L441 741.9 L442.5 742.2 L444 744.8 L445.5 745.3 L447 745.3 L448.5 746.5 L450 747.7 L451.5 748.7 L453 749.2 L454.5 751.7 L456 753 L457.5 752.9 L459 754 L460.5 754.2 L462 755.3 L463.5 756.8 L465 757.8 L466.5 760 L468 759.7 L469.5 760.5 L471 763.5 L472.5 763.8 L474 764.1 L475.5 766.1 L477 766.2 L478.5 768.4 L480 770.5 L481.5 771.4 L483 772.3 L484.5 772.7 L486 774.1 L487.5 774.9 L489 777.4 L490.5 778.2 L492 779.9 L493.5 780.3 L495 781.4 L496.5 783.9 L498 785.5 L499.5 786.6 L501 787.8 L502.5 789.2 L504 790.4 L505.5 790.7 L507 792.7 L508.5 793.8 L510 794.5 L511.5 795.9 L513 797.8 L514.5 799.2 L516 801.5 L517.5 803.5 L519 804 L520.5 806.4 L522 808 L523.5 809.4 L525 809.8 L526.5 811 L528 812.5 L529.5 814 L531 815.6 L532.5 818 L534 820.1 L535.5 821.6 L537 822.5 L538.5 824.4 L540 826.4 L541.5 826.6 L543 829.5 L544.5 831.7 L546 833.2 L547.5 834.9 L549 836.2 L550.5 837.4 L552 840.5 L553.5 841.4 L555 844.2 L556.5 846.5 L558 847.2 L559.5 849.2 L561 852.2 L562.5 853.8 L564 854.6 L565.5 856.5 L567 858.5 L568.5 862.1 L570 863.9 L571.5 864.5 L573 868 L574.5 870.4 L576 871.7 L577.5 873 L579 875.5 L580.5 876.5 L582 878.2 L583.5 882.6 L585 883.8 L586.5 885.5 L588 888.6 L589.5 889.3 L591 892.4 L592.5 894.2 L594 894.5 L595.5 896.6 L597 898.6 L598.5 900.4 L600 903.2 L601.5 904.2 L603 906.6 L604.5 907.6 L606 911.8 L607.5 912 L609 914.2 L610.5 916.5 L612 919.3 L613.5 919.7 L615 923.2 L616.5 923.7 L618 925.7 L619.5 927.6 L621 927.8 L622.5 931.1 L624 932.1 L625.5 933.4 L627 937.9 L628.5 937.7 L630 940.6 L631.5 943.4 L633 944.7 L634.5 945.8 L636 948.4 L637.5 950.5 L639 953.2 L640.5 952.8 L642 956.4 L643.5 957.2 L645 959.3 L646.5 963.1 L648 964.1 L649.5 966.3 L651 969.1 L652.5 971.7 L654 972 L655.5 974.7 L657 976.4 L658.5 978.5 L660 981.3 L661.5 982.5 L663 984.9 L664.5 986.9 L666 990.9 L667.5 992.1 L669 995 L670.5 997.5 L672 996.8 L673.5 1000.3 L675 1004.2 L676.5 1006 L678 1005.2 L679.5 1007.3 L681 1011 L682.5 1011.6 L684 1014.6 L685.5 1016.2 L687 1021.2 L688.5 1024 L690 1026.9 L691.5 1025.7 L693 1030.7 L694.5 1032.7 L696 1032.6 L697.5 1038.5 L699 1041.2 L700.5 1039.9 L702 1045.9 L703.5 1045.5 L705 1048.3 L706.5 1053.1 L708 1054.7 L709.5 1053.6 L711 1057.4 L712.5 1060.2 L714 1061.6 L715.5 1063.2 L717 1066.2 L718.5 1070.7 L720 1069.3 L721.5 1074.6 L723 1076.3 L724.5 1076.4 L726 1080.5 L727.5 1084.5 L729 1086.2 L730.5 1086.1 L732 1093.7 L733.5 1095 L735 1098.5 L736.5 1095.9 L738 1099.2 L739.5 1100.3 L741 1107.1 L742.5 1106.5 L744 1108.1 L745.5 1112.3 L747 1117.7 L748.5 1119.6 L750 1118.6 L751.5 1120.4 L753 1127.6 L754.5 1127.9 L756 1131.2 L757.5 1129.8 L759 1132.1 L760.5 1138.6 L762 1139.4 L763.5 1139.6 L765 1147.8 L766.5 1148.3 L768 1151.9 L769.5 1149.7 L771 1157.4 L772.5 1154.6 L774 1162.5 L775.5 1162.3 L777 1164.1 L778.5 1168.1 L780 1173.2 L781.5 1171.3 L783 1172.9 L784.5 1178.2 L786 1178.7 L787.5 1180.4 L789 1183.3 L790.5 1185.1 L792 1188.7 L793.5 1192 L795 1194.5 L796.5 1200.4 L798 1199.6 L799.5 1203.7 L801 1203.9 L802.5 1207.7 L804 1207.9 L805.5 1212.2 L807 1213 L808.5 1221.1 L810 1222.4 L811.5 1222.3 L813 1227.1 L814.5 1233.4 L816 1229.6 L817.5 1238 L819 1237.6 L820.5 1240.9 L822 1246.4 L823.5 1245.7 L825 1249.4 L826.5 1253.7 L828 1259 L829.5 1256.7 L831 1263.6 L832.5 1265.5 L834 1267.9 L835.5 1269 L837 1271.5 L838.5 1272.1 L840 1275.9 L841.5 1278.5 L843 1287.5 L844.5 1286.2 L846 1288.2 L847.5 1290.3 L849 1302.8 L850.5 1306.9 L852 1307.8 L853.5 1305.3 L855 1307.9 L856.5 1312.1 L858 1318.5 L859.5 1316.1 L861 1325.2 L862.5 1324.8 L864 1343.8 L865.5 1348.1" stroke="#0040DF" /><rect x="815.9" y="1307.6" width="32.8" height="32.8" stroke="#0040DF" stroke-width="6.9" stroke-linejoin="miter"/><rect x="685.6" y="1026.8" width="32.8" height="32.8" stroke="#0040DF" stroke-width="6.9" stroke-linejoin="miter"/><rect x="584" y="849.4" width="32.8" height="32.8" stroke="#0040DF" stroke-width="6.9" stroke-linejoin="miter"/><rect x="504.8" y="741.6" width="32.8" height="32.8" stroke="#0040DF" stroke-width="6.9" stroke-linejoin="miter"/><rect x="443.1" y="689.8" width="32.8" height="32.8" stroke="#0040DF" stroke-width="6.9" stroke-linejoin="miter"/><rect x="395" y="660.6" width="32.8" height="32.8" stroke="#0040DF" stroke-width="6.9" stroke-linejoin="miter"/><rect x="357.6" y="651.6" width="32.8" height="32.8" stroke="#0040DF" stroke-width="6.9" stroke-linejoin="miter"/><rect x="328.3" y="637.6" width="32.8" height="32.8" stroke="#0040DF" stroke-width="6.9" stroke-linejoin="miter"/><rect x="305.6" y="573.5" width="32.8" height="32.8" stroke="#0040DF" stroke-width="6.9" stroke-linejoin="miter"/><rect x="287.8" y="506.6" width="32.8" height="32.8" stroke="#0040DF" stroke-width="6.9" stroke-linejoin="miter"/><rect x="274" y="478.6" width="32.8" height="32.8" stroke="#0040DF" stroke-width="6.9" stroke-linejoin="miter"/><rect x="263.2" y="457.6" width="32.8" height="32.8" stroke="#0040DF" stroke-width="6.9" stroke-linejoin="miter"/><rect x="254.8" y="442.6" width="32.8" height="32.8" stroke="#0040DF" stroke-width="6.9" stroke-linejoin="miter"/><rect x="248.2" y="431.5" width="32.8" height="32.8" stroke="#0040DF" stroke-width="6.9" stroke-linejoin="miter"/><rect x="243.1" y="423.8" width="32.8" height="32.8" stroke="#0040DF" stroke-width="6.9" stroke-linejoin="miter"/><rect x="239.2" y="420.4" width="32.8" height="32.8" stroke="#0040DF" stroke-width="6.9" stroke-linejoin="miter"/><rect x="236.1" y="419.5" width="32.8" height="32.8" stroke="#0040DF" stroke-width="6.9" stroke-linejoin="miter"/><rect x="233.6" y="418.9" width="32.8" height="32.8" stroke="#0040DF" stroke-width="6.9" stroke-linejoin="miter"/><rect x="231.8" y="418.5" width="32.8" height="32.8" stroke="#0040DF" stroke-width="6.9" stroke-linejoin="miter"/><rect x="230.3" y="418.3" width="32.8" height="32.8" stroke="#0040DF" stroke-width="6.9" stroke-linejoin="miter"/><rect x="229.1" y="418.1" width="32.8" height="32.8" stroke="#0040DF" stroke-width="6.9" stroke-linejoin="miter"/><rect x="228.3" y="418" width="32.8" height="32.8" stroke="#0040DF" stroke-width="6.9" stroke-linejoin="miter"/><rect x="227.6" y="418" width="32.8" height="32.8" stroke="#0040DF" stroke-width="6.9" stroke-linejoin="miter"/><rect x="227" y="418" width="32.8" height="32.8" stroke="#0040DF" stroke-width="6.9" stroke-linejoin="miter"/><rect x="226.6" y="417.9" width="32.8" height="32.8" stroke="#0040DF" stroke-width="6.9" stroke-linejoin="miter"/><rect x="226.3" y="417.9" width="32.8" height="32.8" stroke="#0040DF" stroke-width="6.9" stroke-linejoin="miter"/><rect x="226" y="417.9" width="32.8" height="32.8" stroke="#0040DF" stroke-width="6.9" stroke-linejoin="miter"/><rect x="225.8" y="417.9" width="32.8" height="32.8" stroke="#0040DF" stroke-width="6.9" stroke-linejoin="miter"/><rect x="225.7" y="417.9" width="32.8" height="32.8" stroke="#0040DF" stroke-width="6.9" stroke-linejoin="miter"/><rect x="225.5" y="417.9" width="32.8" height="32.8" stroke="#0040DF" stroke-width="6.9" stroke-linejoin="miter"/><path d="M230.6 425L252.6 447M230.6 447L252.6 425" stroke="#0040DF" stroke-width="6.9"/><path d="M234.1 425.3L256.1 447.3M234.1 447.3L256.1 425.3" stroke="#0040DF" stroke-width="6.9"/><path d="M242.8 428.1L264.8 450.1M242.8 450.1L264.8 428.1" stroke="#0040DF" stroke-width="6.9"/><path d="M256.7 440.7L278.7 462.7M256.7 462.7L278.7 440.7" stroke="#0040DF" stroke-width="6.9"/><path d="M275.8 474.2L297.8 496.2M275.8 496.2L297.8 474.2" stroke="#0040DF" stroke-width="6.9"/><path d="M300 547.2L322 569.2M300 569.2L322 547.2" stroke="#0040DF" stroke-width="6.9"/><path d="M329.4 639.8L351.4 661.8M329.4 661.8L351.4 639.8" stroke="#0040DF" stroke-width="6.9"/><path d="M364 685.3L386 707.3M364 707.3L386 685.3" stroke="#0040DF" stroke-width="6.9"/><path d="M403.7 708.9L425.7 730.9M403.7 730.9L425.7 708.9" stroke="#0040DF" stroke-width="6.9"/><path d="M448.6 747.6L470.6 769.6M448.6 769.6L470.6 747.6" stroke="#0040DF" stroke-width="6.9"/><path d="M498.7 784.2L520.7 806.2M498.7 806.2L520.7 784.2" stroke="#0040DF" stroke-width="6.9"/><path d="M553.9 844.9L575.9 866.9M553.9 866.9L575.9 844.9" stroke="#0040DF" stroke-width="6.9"/><path d="M614.3 927.4L636.3 949.4M614.3 949.4L636.3 927.4" stroke="#0040DF" stroke-width="6.9"/><path d="M679.9 1047.1L701.9 1069.1M679.9 1069.1L701.9 1047.1" stroke="#0040DF" stroke-width="6.9"/><path d="M750.7 1173.4L772.7 1195.4M750.7 1195.4L772.7 1173.4" stroke="#0040DF" stroke-width="6.9"/><path d="M826.6 1336.3L848.6 1358.3M826.6 1358.3L848.6 1336.3" stroke="#0040DF" stroke-width="6.9"/><circle cx="241.5" cy="487" r="21" stroke="#0040DF" stroke-width="6.9"/><circle cx="301" cy="478" r="21" stroke="#0040DF" stroke-width="6.9"/><circle cx="360.4" cy="692.3" r="21" stroke="#0040DF" stroke-width="6.9"/><circle cx="419.9" cy="728.6" r="21" stroke="#0040DF" stroke-width="6.9"/><circle cx="479.4" cy="769" r="21" stroke="#0040DF" stroke-width="6.9"/><circle cx="538.8" cy="824.5" r="21" stroke="#0040DF" stroke-width="6.9"/><circle cx="598.3" cy="900.8" r="21" stroke="#0040DF" stroke-width="6.9"/><circle cx="657.8" cy="977.4" r="21" stroke="#0040DF" stroke-width="6.9"/><circle cx="717.2" cy="1067.5" r="21" stroke="#0040DF" stroke-width="6.9"/><circle cx="776.7" cy="1164.7" r="21" stroke="#0040DF" stroke-width="6.9"/><circle cx="836.2" cy="1271.1" r="21" stroke="#0040DF" stroke-width="6.9"/></g>
<g><path d="M241.5 505 L244.5 505.2 L247.5 505.6 L250.5 506.1 L253.5 506.7 L256.6 507.4 L259.6 508.3 L262.6 509.4 L265.6 510.8 L268.6 512.3 L271.6 513.9 L274.6 516 L277.6 518.3 L280.6 521 L283.7 524 L286.7 527.3 L289.7 531.1 L292.7 535.7 L295.7 540.8 L298.7 546.1 L301.7 551.3 L304.7 556.6 L307.7 562.1 L310.8 567.6 L313.8 572.8 L316.8 577.7 L319.8 582.2 L322.8 586.8 L325.8 591.3 L328.8 595.5 L331.8 599.4 L334.9 602.8 L337.9 605.5 L340.9 607.5 L343.9 609.4 L346.9 611 L349.9 612.5 L352.9 613.8 L355.9 615.1 L358.9 616.3 L362 617.4 L365 618.6 L368 619.8 L371 620.9 L374 622 L377 623 L380 624 L383 624.9 L386 625.9 L389.1 626.8 L392.1 627.8 L395.1 628.8 L398.1 629.8 L401.1 630.9 L404.1 632 L407.1 633.1 L410.1 634.2 L413.1 635.3 L416.2 636.5 L419.2 637.6 L422.2 638.8 L425.2 640 L428.2 641.2 L431.2 642.4 L434.2 643.7 L437.2 644.9 L440.2 646.2 L443.3 647.5 L446.3 648.9 L449.3 650.3 L452.3 651.7 L455.3 653.1 L458.3 654.5 L461.3 656 L464.3 657.4 L467.4 658.9 L470.4 660.5 L473.4 662 L476.4 663.6 L479.4 665.2 L482.4 666.9 L485.4 668.5 L488.4 670.2 L491.4 672 L494.5 673.8 L497.5 675.6 L500.5 677.4 L503.5 679.3 L506.5 681.2 L509.5 683.2 L512.5 685.3 L515.5 687.4 L518.5 689.6 L521.6 691.9 L524.6 694.2 L527.6 696.6 L530.6 699 L533.6 701.4 L536.6 703.9 L539.6 706.4 L542.6 709 L545.6 711.5 L548.7 714.1 L551.7 716.7 L554.7 719.3 L557.7 721.9 L560.7 724.5 L563.7 727.1 L566.7 729.7 L569.7 732.2 L572.7 734.8 L575.8 737.3 L578.8 739.8 L581.8 742.3 L584.8 744.8 L587.8 747.2 L590.8 749.7 L593.8 752.1 L596.8 754.5 L599.8 757 L602.9 759.4 L605.9 761.9 L608.9 764.3 L611.9 766.7 L614.9 769.2 L617.9 771.6 L620.9 774.1 L623.9 776.5 L627 779 L630 781.5 L633 784 L636 786.5 L639 789.1 L642 791.6 L645 794.2 L648 796.8 L651 799.4 L654.1 802.1 L657.1 804.7 L660.1 807.4 L663.1 810.2 L666.1 812.9 L669.1 815.7 L672.1 818.5 L675.1 821.4 L678.1 824.3 L681.2 827.2 L684.2 830.2 L687.2 833.3 L690.2 836.3 L693.2 839.4 L696.2 842.5 L699.2 845.7 L702.2 848.9 L705.2 852.1 L708.3 855.3 L711.3 858.6 L714.3 861.9 L717.3 865.2 L720.3 868.6 L723.3 871.9 L726.3 875.3 L729.3 878.7 L732.3 882.1 L735.4 885.5 L738.4 889 L741.4 892.4 L744.4 895.9 L747.4 899.4 L750.4 902.8 L753.4 906.3 L756.4 909.8 L759.5 913.3 L762.5 916.8 L765.5 920.3 L768.5 923.8 L771.5 927.3 L774.5 930.8 L777.5 934.2 L780.5 937.7 L783.5 941.2 L786.6 944.6 L789.6 948.1 L792.6 951.5 L795.6 954.9 L798.6 958.3 L801.6 961.7 L804.6 965.1 L807.6 968.5 L810.6 971.9 L813.7 975.4 L816.7 978.8 L819.7 982.2 L822.7 985.6 L825.7 989 L828.7 992.5 L831.7 995.9 L834.7 999.3 L837.7 1002.8 L840.8 1006.2 L843.8 1009.6 L846.8 1013.1 L849.8 1016.5 L852.8 1020 L855.8 1023.4 L858.8 1026.9 L861.8 1030.3 L864.8 1033.8 L867.9 1037.2 L870.9 1040.7 L873.9 1044.2 L876.9 1047.6 L879.9 1051.1 L882.9 1054.6 L885.9 1058.1 L888.9 1061.6 L891.9 1065 L895 1068.5 L898 1072 L901 1075.5 L904 1079 L907 1082.5 L910 1086 L913 1089.5 L916 1093.1 L919.1 1096.6 L922.1 1100.1 L925.1 1103.6 L928.1 1107.1 L931.1 1110.7 L934.1 1114.2 L937.1 1117.7 L940.1 1121.3 L943.1 1124.8 L946.2 1128.4 L949.2 1131.9 L952.2 1135.5 L955.2 1139 L958.2 1142.6 L961.2 1146.1 L964.2 1149.7 L967.2 1153.3 L970.2 1156.9 L973.3 1160.4 L976.3 1164 L979.3 1167.6 L982.3 1171.2 L985.3 1174.8 L988.3 1178.4 L991.3 1182 L994.3 1185.6 L997.3 1189.2 L1000.4 1192.8 L1003.4 1196.4 L1006.4 1200 L1009.4 1203.6 L1012.4 1207.2 L1015.4 1210.9 L1018.4 1214.5 L1021.4 1218.1 L1024.4 1221.8 L1027.5 1225.4 L1030.5 1229 L1033.5 1232.7 L1036.5 1236.3 L1039.5 1240 L1042.5 1243.6 L1045.5 1247.3 L1048.5 1250.9 L1051.6 1254.6 L1054.6 1258.3 L1057.6 1261.9 L1060.6 1265.6 L1063.6 1269.3 L1066.6 1273 L1069.6 1276.6 L1072.6 1280.3 L1075.6 1284 L1078.7 1287.7 L1081.7 1291.4 L1084.7 1295.1 L1087.7 1298.8 L1090.7 1302.5 L1093.7 1306.2 L1096.7 1309.9 L1099.7 1313.6 L1102.7 1317.4 L1105.8 1321.1 L1108.8 1324.8 L1111.8 1328.5 L1114.8 1332.3 L1117.8 1336" stroke="#0080BF" /><path d="M241.5 507 L244.5 507.1 L247.5 507.5 L250.5 507.9 L253.5 508.5 L256.6 509.2 L259.6 509.9 L262.6 510.7 L265.6 511.7 L268.6 512.9 L271.6 514.3 L274.6 515.9 L277.6 517.8 L280.7 519.8 L283.7 522.2 L286.7 525.5 L289.7 529.5 L292.7 533.8 L295.7 538.4 L298.7 543.1 L301.7 547.8 L304.8 553.2 L307.8 558.9 L310.8 564.7 L313.8 570.1 L316.8 574.7 L319.8 578.7 L322.8 582.5 L325.8 586.1 L328.9 589.4 L331.9 592.6 L334.9 595.5 L337.9 598.2 L340.9 600.7 L343.9 603.1 L346.9 605.4 L349.9 607.5 L353 609.5 L356 611.4 L359 613.2 L362 614.9 L365 616.5 L368 618 L371 619.5 L374 620.9 L377.1 622.2 L380.1 623.5 L383.1 624.7 L386.1 625.9 L389.1 627 L392.1 628.2 L395.1 629.3 L398.1 630.4 L401.2 631.5 L404.2 632.7 L407.2 633.8 L410.2 635 L413.2 636.2 L416.2 637.5 L419.2 638.8 L422.2 640.1 L425.2 641.5 L428.3 642.9 L431.3 644.3 L434.3 645.7 L437.3 647.1 L440.3 648.5 L443.3 650 L446.3 651.4 L449.3 652.9 L452.4 654.4 L455.4 655.9 L458.4 657.5 L461.4 659 L464.4 660.6 L467.4 662.1 L470.4 663.8 L473.4 665.4 L476.5 667 L479.5 668.7 L482.5 670.4 L485.5 672.2 L488.5 673.9 L491.5 675.7 L494.5 677.5 L497.5 679.4 L500.6 681.3 L503.6 683.3 L506.6 685.3 L509.6 687.3 L512.6 689.4 L515.6 691.5 L518.6 693.6 L521.6 695.8 L524.7 698 L527.7 700.2 L530.7 702.4 L533.7 704.7 L536.7 707 L539.7 709.3 L542.7 711.6 L545.7 713.9 L548.8 716.2 L551.8 718.5 L554.8 720.9 L557.8 723.2 L560.8 725.6 L563.8 727.9 L566.8 730.2 L569.8 732.6 L572.9 734.9 L575.9 737.2 L578.9 739.5 L581.9 741.8 L584.9 744.1 L587.9 746.4 L590.9 748.8 L593.9 751.1 L597 753.4 L600 755.7 L603 758.1 L606 760.4 L609 762.8 L612 765.2 L615 767.5 L618 769.9 L621 772.4 L624.1 774.8 L627.1 777.2 L630.1 779.7 L633.1 782.2 L636.1 784.7 L639.1 787.2 L642.1 789.8 L645.1 792.3 L648.2 794.9 L651.2 797.6 L654.2 800.2 L657.2 802.9 L660.2 805.6 L663.2 808.4 L666.2 811.1 L669.2 814 L672.3 816.9 L675.3 819.8 L678.3 822.8 L681.3 825.8 L684.3 828.9 L687.3 832 L690.3 835.1 L693.3 838.3 L696.4 841.5 L699.4 844.8 L702.4 848 L705.4 851.3 L708.4 854.6 L711.4 857.9 L714.4 861.3 L717.4 864.6 L720.5 868 L723.5 871.4 L726.5 874.8 L729.5 878.2 L732.5 881.5 L735.5 884.9 L738.5 888.3 L741.5 891.7 L744.6 895.1 L747.6 898.4 L750.6 901.7 L753.6 905.1 L756.6 908.4 L759.6 911.6 L762.6 914.9 L765.6 918.1 L768.7 921.3 L771.7 924.5 L774.7 927.6 L777.7 930.8 L780.7 933.9 L783.7 937 L786.7 940.1 L789.7 943.2 L792.7 946.3 L795.8 949.4 L798.8 952.5 L801.8 955.6 L804.8 958.6 L807.8 961.7 L810.8 964.8 L813.8 967.8 L816.8 970.9 L819.9 973.9 L822.9 977 L825.9 980 L828.9 983.1 L831.9 986.2 L834.9 989.2 L837.9 992.3 L840.9 995.3 L844 998.4 L847 1001.5 L850 1004.6 L853 1007.7 L856 1010.8 L859 1013.9 L862 1017 L865 1020.1 L868.1 1023.3 L871.1 1026.4 L874.1 1029.6 L877.1 1032.8 L880.1 1036 L883.1 1039.2 L886.1 1042.4 L889.1 1045.7 L892.2 1048.9 L895.2 1052.2 L898.2 1055.5 L901.2 1058.7 L904.2 1062 L907.2 1065.3 L910.2 1068.7 L913.2 1072 L916.3 1075.3 L919.3 1078.7 L922.3 1082 L925.3 1085.4 L928.3 1088.7 L931.3 1092.1 L934.3 1095.5 L937.3 1098.9 L940.4 1102.3 L943.4 1105.7 L946.4 1109.1 L949.4 1112.5 L952.4 1115.9 L955.4 1119.3 L958.4 1122.7 L961.4 1126.1 L964.5 1129.5 L967.5 1132.9 L970.5 1136.3 L973.5 1139.7 L976.5 1143.1 L979.5 1146.5 L982.5 1149.9 L985.5 1153.3 L988.5 1156.7 L991.6 1160.1 L994.6 1163.5 L997.6 1166.9 L1000.6 1170.2 L1003.6 1173.6 L1006.6 1177 L1009.6 1180.3 L1012.6 1183.7 L1015.7 1187 L1018.7 1190.4 L1021.7 1193.8 L1024.7 1197.1 L1027.7 1200.5 L1030.7 1203.9 L1033.7 1207.2 L1036.7 1210.6 L1039.8 1213.9 L1042.8 1217.3 L1045.8 1220.7 L1048.8 1224 L1051.8 1227.4 L1054.8 1230.7 L1057.8 1234.1 L1060.8 1237.5 L1063.9 1240.8 L1066.9 1244.2 L1069.9 1247.5 L1072.9 1250.9 L1075.9 1254.3 L1078.9 1257.6 L1081.9 1261 L1084.9 1264.3 L1088 1267.7 L1091 1271.1 L1094 1274.4 L1097 1277.8 L1100 1281.1 L1103 1284.5 L1106 1287.9 L1109 1291.2 L1112.1 1294.6 L1115.1 1297.9 L1118.1 1301.3 L1121.1 1304.7 L1124.1 1308 L1127.1 1311.4 L1130.1 1314.7 L1133.1 1318.1 L1136.2 1321.5 L1139.2 1324.8 L1142.2 1328.2 L1145.2 1331.5 L1148.2 1334.9" stroke="#0080BF" stroke-dasharray="40 26"/><path d="M241.5 553.1 L243 514.5 L244.5 516 L246 514.7 L247.5 515 L249 514.5 L250.5 515.5 L252 515.9 L253.5 516.3 L255 516.1 L256.5 517.1 L258 516.6 L259.5 517.6 L261 517.7 L262.5 518.9 L264 518.7 L265.5 519.3 L267 520.4 L268.5 520.9 L270 522.2 L271.5 522.7 L273 524 L274.5 524.8 L276 526.1 L277.5 527.6 L279 528 L280.5 529.3 L282 532.1 L283.5 532 L285 534.8 L286.5 536.4 L288 536.9 L289.5 540.3 L291 542.2 L292.5 543.5 L294 545.5 L295.5 547.4 L297 547.9 L298.5 550.4 L300 552 L301.5 554.4 L303 556.1 L304.5 557.9 L306 559.3 L307.5 561.9 L309 563.4 L310.5 565.4 L312 566.5 L313.5 568.1 L315 570.3 L316.5 572.8 L318 574.2 L319.5 577.7 L321 579 L322.5 581.1 L324 582.9 L325.5 584.8 L327 586.2 L328.5 586.9 L330 590.1 L331.5 591.5 L333 592.5 L334.5 594.1 L336 595.8 L337.5 596.1 L339 599 L340.5 599.5 L342 600.6 L343.5 602.4 L345 604.8 L346.5 605.2 L348 607.6 L349.5 609.5 L351 610 L352.5 611.1 L354 612.7 L355.5 614.5 L357 616 L358.5 617.1 L360 618.5 L361.5 618.7 L363 620.1 L364.5 621.6 L366 623.9 L367.5 624.3 L369 626.1 L370.5 626.3 L372 627.6 L373.5 629.3 L375 631.3 L376.5 632.6 L378 633.8 L379.5 634.2 L381 635.8 L382.5 636.9 L384 638 L385.5 638.5 L387 641.2 L388.5 640.9 L390 643.5 L391.5 644.6 L393 643.8 L394.5 645.7 L396 647.5 L397.5 648.8 L399 648.8 L400.5 649.5 L402 650.3 L403.5 652.8 L405 652.3 L406.5 654 L408 654 L409.5 655.7 L411 657.5 L412.5 656.7 L414 659 L415.5 659.2 L417 660.8 L418.5 661.3 L420 661.1 L421.5 663.3 L423 663.2 L424.5 663.1 L426 663.8 L427.5 665.5 L429 666.1 L430.5 666.5 L432 666.9 L433.5 668 L435 668.6 L436.5 670.3 L438 669.2 L439.5 671.3 L441 672.1 L442.5 671.3 L444 673.5 L445.5 673.7 L447 674.7 L448.5 674 L450 674.7 L451.5 675.4 L453 677.1 L454.5 676.9 L456 677 L457.5 677.6 L459 677.9 L460.5 678 L462 678.6 L463.5 680.6 L465 680.1 L466.5 681.9 L468 681.1 L469.5 681.6 L471 682.7 L472.5 682.6 L474 683.5 L475.5 685.2 L477 685.6 L478.5 686 L480 686.2 L481.5 687.3 L483 688 L484.5 687.8 L486 688.7 L487.5 687.9 L489 689.9 L490.5 690 L492 691.2 L493.5 691.6 L495 691.5 L496.5 691.7 L498 694.1 L499.5 693.2 L501 694.6 L502.5 695 L504 695.7 L505.5 697.3 L507 698.5 L508.5 697.8 L510 699.4 L511.5 699.5 L513 700.8 L514.5 701.3 L516 701.7 L517.5 702.5 L519 703.5 L520.5 705.8 L522 705.8 L523.5 706.2 L525 708.5 L526.5 709.6 L528 709.4 L529.5 709.8 L531 710.8 L532.5 711.6 L534 713.1 L535.5 713.5 L537 714.8 L538.5 715.9 L540 717.5 L541.5 719.2 L543 719.9 L544.5 720.3 L546 721.3 L547.5 722.6 L549 723.3 L550.5 724.3 L552 724.8 L553.5 726.3 L555 728.8 L556.5 728.2 L558 730 L559.5 731.3 L561 732.9 L562.5 732.6 L564 733.8 L565.5 734.9 L567 736.3 L568.5 737.4 L570 739.5 L571.5 740.4 L573 741.5 L574.5 740.9 L576 742 L577.5 744.5 L579 745.9 L580.5 746.1 L582 747.4 L583.5 747.3 L585 749.2 L586.5 751.3 L588 752.1 L589.5 753.2 L591 754.5 L592.5 754.1 L594 754.9 L595.5 756 L597 757.7 L598.5 759.1 L600 760.6 L601.5 761.1 L603 762 L604.5 763.2 L606 763.6 L607.5 764.8 L609 764.8 L610.5 767.2 L612 767.1 L613.5 769.5 L615 769.9 L616.5 770.2 L618 770.9 L619.5 772.1 L621 773.8 L622.5 775 L624 774.8 L625.5 775.7 L627 777.6 L628.5 778.7 L630 779.3 L631.5 779.9 L633 781.7 L634.5 781.5 L636 783 L637.5 784.3 L639 786.3 L640.5 786.7 L642 788.2 L643.5 788.4 L645 788.9 L646.5 789.9 L648 792.3 L649.5 792.8 L651 793.1 L652.5 793.5 L654 795.5 L655.5 796.9 L657 797.4 L658.5 798.1 L660 799.9 L661.5 801.5 L663 801.2 L664.5 801.8 L666 803.5 L667.5 804.7 L669 806.3 L670.5 806.4 L672 808.7 L673.5 809.7 L675 810.3 L676.5 810.8 L678 813.4 L679.5 813.2 L681 815.4 L682.5 815.3 L684 816.5 L685.5 818.7 L687 818.9 L688.5 821.4 L690 821.6 L691.5 822.2 L693 823.5 L694.5 825.1 L696 826.8 L697.5 828.5 L699 828.1 L700.5 829.9 L702 830.7 L703.5 833.5 L705 833.1 L706.5 834.2 L708 835.4 L709.5 837.4 L711 839.7 L712.5 840.9 L714 841.9 L715.5 843.7 L717 844.9 L718.5 845 L720 846 L721.5 848.8 L723 849.7 L724.5 849.6 L726 852.2 L727.5 852.9 L729 854.3 L730.5 855.5 L732 856.5 L733.5 857.5 L735 859.4 L736.5 860.9 L738 863.6 L739.5 863.1 L741 866.3 L742.5 866 L744 867.7 L745.5 870.1 L747 871.4 L748.5 871.9 L750 872.4 L751.5 874.7 L753 875.8 L754.5 878.5 L756 878.1 L757.5 879.9 L759 882.6 L760.5 881.8 L762 884.1 L763.5 886.5 L765 887.7 L766.5 887.2 L768 888.6 L769.5 890 L771 893.6 L772.5 893.2 L774 895.9 L775.5 897.6 L777 897.5 L778.5 898.6 L780 901.9 L781.5 902.3 L783 902.6 L784.5 905.3 L786 905.5 L787.5 906.7 L789 907.3 L790.5 910.8 L792 912.6 L793.5 913.2 L795 915.4 L796.5 914 L798 916 L799.5 918.1 L801 920.9 L802.5 922.3 L804 921.9 L805.5 922.9 L807 924.8 L808.5 926.4 L810 929.1 L811.5 928.1 L813 931.5 L814.5 932.6 L816 934.3 L817.5 935.5 L819 936.4 L820.5 936.8 L822 938.2 L823.5 939.7 L825 942.5 L826.5 941.5 L828 943.3 L829.5 946.6 L831 946.3 L832.5 947 L834 948.3 L835.5 951.6 L837 952.2 L838.5 955.9 L840 957 L841.5 958.8 L843 957.6 L844.5 958.4 L846 959.8 L847.5 962.8 L849 965 L850.5 965.4 L852 966.1 L853.5 968.2 L855 970.5 L856.5 972.1 L858 973.9 L859.5 975.7 L861 976.5 L862.5 975.8 L864 980.2 L865.5 979.5 L867 982.1 L868.5 982.8 L870 985.8 L871.5 985.1 L873 986.8 L874.5 988.3 L876 989.4 L877.5 994 L879 994.3 L880.5 994.7 L882 996.6 L883.5 1000.7 L885 1000.2 L886.5 1000.6 L888 1004.6 L889.5 1005.5 L891 1008.6 L892.5 1006.3 L894 1009.5 L895.5 1012.6 L897 1014.3 L898.5 1016.2 L900 1013.9 L901.5 1016.6 L903 1017.4 L904.5 1019.3 L906 1024.6 L907.5 1024.4 L909 1027.6 L910.5 1026.6 L912 1030.6 L913.5 1030.2 L915 1030.9 L916.5 1035 L918 1037.4 L919.5 1035 L921 1039 L922.5 1040.7 L924 1040.4 L925.5 1042.7 L927 1043.2 L928.5 1045.2 L930 1047 L931.5 1050.4 L933 1052.3 L934.5 1051.6 L936 1052.2 L937.5 1055.4 L939 1058.9 L940.5 1057.9 L942 1060.2 L943.5 1061.2 L945 1065.9 L946.5 1066.2 L948 1065.2 L949.5 1067 L951 1070.2 L952.5 1072.6 L954 1074.7 L955.5 1073.3 L957 1075.2 L958.5 1079.7 L960 1079.7 L961.5 1080.6 L963 1082.3 L964.5 1087.5 L966 1085.5 L967.5 1088.4 L969 1088.8 L970.5 1090.7 L972 1094.8 L973.5 1097.2 L975 1095.1 L976.5 1095.7 L978 1100.3 L979.5 1098.9 L981 1099.3 L982.5 1106.1 L984 1104.8 L985.5 1108.7 L987 1107.8 L988.5 1112.2 L990 1111.3 L991.5 1111.1 L993 1111.7 L994.5 1116.5 L996 1118.6 L997.5 1121.8 L999 1118.4 L1000.5 1123.2 L1002 1123.2 L1003.5 1125.6 L1005 1125 L1006.5 1127.4 L1008 1130.4 L1009.5 1134.5 L1011 1131 L1012.5 1135 L1014 1138.5 L1015.5 1141.2 L1017 1137.8 L1018.5 1138.9 L1020 1145.8 L1021.5 1147.6 L1023 1146 L1024.5 1144.8 L1026 1152.1 L1027.5 1150.1 L1029 1155.1 L1030.5 1154.9 L1032 1157.8 L1033.5 1155 L1035 1160.8 L1036.5 1158.6 L1038 1161.5 L1039.5 1166.1 L1041 1167.6 L1042.5 1164.8 L1044 1166.7 L1045.5 1169.5 L1047 1172 L1048.5 1172.7 L1050 1172.5 L1051.5 1174.9 L1053 1179.9 L1054.5 1182.7 L1056 1178.3 L1057.5 1183.6 L1059 1186.6 L1060.5 1183.1 L1062 1190.4 L1063.5 1186.9 L1065 1191.9 L1066.5 1193.2 L1068 1195.4 L1069.5 1194.7 L1071 1197.1 L1072.5 1199.9 L1074 1200.4 L1075.5 1203.7 L1077 1203.8 L1078.5 1205.4 L1080 1203.9 L1081.5 1210 L1083 1210.6 L1084.5 1210.4 L1086 1216 L1087.5 1217.8 L1089 1217 L1090.5 1216.5 L1092 1220.4 L1093.5 1219.3 L1095 1221.1 L1096.5 1225.1 L1098 1224.1 L1099.5 1228.5 L1101 1230.7 L1102.5 1228.8 L1104 1235.1 L1105.5 1232.5 L1107 1239.3 L1108.5 1241.4 L1110 1241 L1111.5 1239.1 L1113 1244.4 L1114.5 1245.2 L1116 1251.5 L1117.5 1246.7 L1119 1254.3 L1120.5 1257.2 L1122 1256.9 L1123.5 1259.4 L1125 1256.1 L1126.5 1264.4 L1128 1262.2 L1129.5 1267.8 L1131 1269.4 L1132.5 1264.9 L1134 1272.1 L1135.5 1275.2 L1137 1270 L1138.5 1274.4 L1140 1279.9 L1141.5 1277 L1143 1285.3 L1144.5 1282.2 L1146 1288.9 L1147.5 1285.5 L1149 1290.7 L1150.5 1296.3 L1152 1292.5 L1153.5 1295.1 L1155 1299.3 L1156.5 1299.8 L1158 1299.5 L1159.5 1302.7 L1161 1304.2 L1162.5 1314.2 L1164 1313.5 L1165.5 1318.9 L1167 1309.2 L1168.5 1321.7 L1170 1310.1 L1171.5 1320.2 L1173 1324.4 L1174.5 1318.9 L1176 1334.5 L1177.5 1327.1 L1179 1329.4 L1180.5 1341.2 L1182 1315.4 L1183.5 1349.5 L1185 1337.3 L1186.5 1329.1 L1188 1347.6 L1189.5 1325.2 L1191 1360.2 L1192.5 1342 L1194 1332.1 L1195.5 1354.3 L1197 1338.2" stroke="#0080BF" /><rect x="937.5" y="1121.1" width="32.8" height="32.8" stroke="#0080BF" stroke-width="6.9" stroke-linejoin="miter"/><rect x="780.4" y="939.8" width="32.8" height="32.8" stroke="#0080BF" stroke-width="6.9" stroke-linejoin="miter"/><rect x="657.9" y="804.2" width="32.8" height="32.8" stroke="#0080BF" stroke-width="6.9" stroke-linejoin="miter"/><rect x="562.4" y="723.4" width="32.8" height="32.8" stroke="#0080BF" stroke-width="6.9" stroke-linejoin="miter"/><rect x="488" y="663.5" width="32.8" height="32.8" stroke="#0080BF" stroke-width="6.9" stroke-linejoin="miter"/><rect x="430" y="632.6" width="32.8" height="32.8" stroke="#0080BF" stroke-width="6.9" stroke-linejoin="miter"/><rect x="384.8" y="614.5" width="32.8" height="32.8" stroke="#0080BF" stroke-width="6.9" stroke-linejoin="miter"/><rect x="349.6" y="602.6" width="32.8" height="32.8" stroke="#0080BF" stroke-width="6.9" stroke-linejoin="miter"/><rect x="322.1" y="589.6" width="32.8" height="32.8" stroke="#0080BF" stroke-width="6.9" stroke-linejoin="miter"/><rect x="300.7" y="561.8" width="32.8" height="32.8" stroke="#0080BF" stroke-width="6.9" stroke-linejoin="miter"/><rect x="284" y="532.7" width="32.8" height="32.8" stroke="#0080BF" stroke-width="6.9" stroke-linejoin="miter"/><rect x="271" y="511.8" width="32.8" height="32.8" stroke="#0080BF" stroke-width="6.9" stroke-linejoin="miter"/><rect x="260.9" y="501.7" width="32.8" height="32.8" stroke="#0080BF" stroke-width="6.9" stroke-linejoin="miter"/><rect x="253" y="496.3" width="32.8" height="32.8" stroke="#0080BF" stroke-width="6.9" stroke-linejoin="miter"/><rect x="246.9" y="493.3" width="32.8" height="32.8" stroke="#0080BF" stroke-width="6.9" stroke-linejoin="miter"/><rect x="242.1" y="491.5" width="32.8" height="32.8" stroke="#0080BF" stroke-width="6.9" stroke-linejoin="miter"/><rect x="238.3" y="490.5" width="32.8" height="32.8" stroke="#0080BF" stroke-width="6.9" stroke-linejoin="miter"/><rect x="235.4" y="489.9" width="32.8" height="32.8" stroke="#0080BF" stroke-width="6.9" stroke-linejoin="miter"/><rect x="233.1" y="489.5" width="32.8" height="32.8" stroke="#0080BF" stroke-width="6.9" stroke-linejoin="miter"/><rect x="231.4" y="489.2" width="32.8" height="32.8" stroke="#0080BF" stroke-width="6.9" stroke-linejoin="miter"/><rect x="230" y="489" width="32.8" height="32.8" stroke="#0080BF" stroke-width="6.9" stroke-linejoin="miter"/><rect x="228.9" y="488.9" width="32.8" height="32.8" stroke="#0080BF" stroke-width="6.9" stroke-linejoin="miter"/><rect x="228.1" y="488.8" width="32.8" height="32.8" stroke="#0080BF" stroke-width="6.9" stroke-linejoin="miter"/><rect x="227.4" y="488.7" width="32.8" height="32.8" stroke="#0080BF" stroke-width="6.9" stroke-linejoin="miter"/><rect x="226.9" y="488.7" width="32.8" height="32.8" stroke="#0080BF" stroke-width="6.9" stroke-linejoin="miter"/><rect x="226.5" y="488.7" width="32.8" height="32.8" stroke="#0080BF" stroke-width="6.9" stroke-linejoin="miter"/><rect x="226.2" y="488.6" width="32.8" height="32.8" stroke="#0080BF" stroke-width="6.9" stroke-linejoin="miter"/><rect x="226" y="488.6" width="32.8" height="32.8" stroke="#0080BF" stroke-width="6.9" stroke-linejoin="miter"/><rect x="225.8" y="488.6" width="32.8" height="32.8" stroke="#0080BF" stroke-width="6.9" stroke-linejoin="miter"/><rect x="225.6" y="488.6" width="32.8" height="32.8" stroke="#0080BF" stroke-width="6.9" stroke-linejoin="miter"/><rect x="225.5" y="488.6" width="32.8" height="32.8" stroke="#0080BF" stroke-width="6.9" stroke-linejoin="miter"/><path d="M233 496.1L255 518.1M233 518.1L255 496.1" stroke="#0080BF" stroke-width="6.9"/><path d="M246.3 498.4L268.3 520.4M246.3 520.4L268.3 498.4" stroke="#0080BF" stroke-width="6.9"/><path d="M270.8 509.6L292.8 531.6M270.8 531.6L292.8 509.6" stroke="#0080BF" stroke-width="6.9"/><path d="M306.6 564.8L328.6 586.8M306.6 586.8L328.6 564.8" stroke="#0080BF" stroke-width="6.9"/><path d="M353.7 605.4L375.7 627.4M353.7 627.4L375.7 605.4" stroke="#0080BF" stroke-width="6.9"/><path d="M412.1 629.5L434.1 651.5M412.1 651.5L434.1 629.5" stroke="#0080BF" stroke-width="6.9"/><path d="M481.8 665.5L503.8 687.5M481.8 687.5L503.8 665.5" stroke="#0080BF" stroke-width="6.9"/><path d="M562.8 724.6L584.8 746.6M562.8 746.6L584.8 724.6" stroke="#0080BF" stroke-width="6.9"/><path d="M655 799.9L677 821.9M655 821.9L677 799.9" stroke="#0080BF" stroke-width="6.9"/><path d="M758.6 911.3L780.6 933.3M758.6 933.3L780.6 911.3" stroke="#0080BF" stroke-width="6.9"/><path d="M873.4 1029.6L895.4 1051.6M873.4 1051.6L895.4 1029.6" stroke="#0080BF" stroke-width="6.9"/><path d="M999.5 1170.3L1021.5 1192.3M999.5 1192.3L1021.5 1170.3" stroke="#0080BF" stroke-width="6.9"/><path d="M1137 1323.6L1159 1345.6M1137 1345.6L1159 1323.6" stroke="#0080BF" stroke-width="6.9"/><circle cx="241.5" cy="553" r="21" stroke="#0080BF" stroke-width="6.9"/><circle cx="330.3" cy="589.8" r="21" stroke="#0080BF" stroke-width="6.9"/><circle cx="419.2" cy="661.2" r="21" stroke="#0080BF" stroke-width="6.9"/><circle cx="508" cy="698" r="21" stroke="#0080BF" stroke-width="6.9"/><circle cx="596.8" cy="757.5" r="21" stroke="#0080BF" stroke-width="6.9"/><circle cx="685.6" cy="818.3" r="21" stroke="#0080BF" stroke-width="6.9"/><circle cx="774.5" cy="895.6" r="21" stroke="#0080BF" stroke-width="6.9"/><circle cx="863.3" cy="978.1" r="21" stroke="#0080BF" stroke-width="6.9"/><circle cx="952.1" cy="1071.9" r="21" stroke="#0080BF" stroke-width="6.9"/><circle cx="1040.9" cy="1165.3" r="21" stroke="#0080BF" stroke-width="6.9"/><circle cx="1129.8" cy="1264.4" r="21" stroke="#0080BF" stroke-width="6.9"/></g>
<g><path d="M241.5 549 L244.5 549.5 L247.5 550.1 L250.5 550.8 L253.6 551.6 L256.6 552.4 L259.6 553.4 L262.6 554.4 L265.6 555.6 L268.6 557.1 L271.6 559.2 L274.6 561.1 L277.7 562.6 L280.7 564.1 L283.7 565.7 L286.7 567.6 L289.7 569.8 L292.7 572 L295.7 574.3 L298.7 576.7 L301.8 579.2 L304.8 581.8 L307.8 584.4 L310.8 587 L313.8 589.8 L316.8 592.7 L319.8 595.6 L322.8 598.4 L325.9 601 L328.9 603.2 L331.9 605.1 L334.9 606.8 L337.9 608.3 L340.9 609.8 L343.9 611.2 L346.9 612.5 L350 613.7 L353 614.8 L356 615.9 L359 617 L362 617.9 L365 618.8 L368 619.7 L371 620.5 L374.1 621.3 L377.1 622.2 L380.1 623 L383.1 623.8 L386.1 624.7 L389.1 625.6 L392.1 626.5 L395.1 627.5 L398.2 628.4 L401.2 629.3 L404.2 630.2 L407.2 631.2 L410.2 632.1 L413.2 633.1 L416.2 634 L419.3 635 L422.3 636 L425.3 637 L428.3 638 L431.3 639 L434.3 640 L437.3 641 L440.3 642 L443.4 643.1 L446.4 644.1 L449.4 645.1 L452.4 646.2 L455.4 647.2 L458.4 648.3 L461.4 649.4 L464.4 650.5 L467.5 651.6 L470.5 652.8 L473.5 653.9 L476.5 655.1 L479.5 656.3 L482.5 657.5 L485.5 658.8 L488.5 660.1 L491.6 661.4 L494.6 662.8 L497.6 664.2 L500.6 665.6 L503.6 667 L506.6 668.4 L509.6 669.9 L512.6 671.4 L515.7 672.9 L518.7 674.4 L521.7 675.9 L524.7 677.5 L527.7 679 L530.7 680.5 L533.7 682.1 L536.7 683.7 L539.8 685.2 L542.8 686.8 L545.8 688.3 L548.8 689.9 L551.8 691.4 L554.8 693 L557.8 694.5 L560.9 696.1 L563.9 697.6 L566.9 699.2 L569.9 700.8 L572.9 702.3 L575.9 703.9 L578.9 705.5 L581.9 707 L585 708.6 L588 710.2 L591 711.8 L594 713.5 L597 715.1 L600 716.7 L603 718.4 L606 720.1 L609.1 721.8 L612.1 723.5 L615.1 725.3 L618.1 727 L621.1 728.8 L624.1 730.6 L627.1 732.4 L630.1 734.3 L633.2 736.2 L636.2 738.1 L639.2 740.1 L642.2 742.1 L645.2 744.1 L648.2 746.1 L651.2 748.3 L654.2 750.4 L657.3 752.6 L660.3 754.8 L663.3 757 L666.3 759.2 L669.3 761.5 L672.3 763.8 L675.3 766.2 L678.3 768.5 L681.4 770.9 L684.4 773.3 L687.4 775.7 L690.4 778.1 L693.4 780.5 L696.4 782.9 L699.4 785.4 L702.4 787.8 L705.5 790.3 L708.5 792.8 L711.5 795.2 L714.5 797.7 L717.5 800.2 L720.5 802.6 L723.5 805.1 L726.6 807.6 L729.6 810 L732.6 812.5 L735.6 814.9 L738.6 817.3 L741.6 819.7 L744.6 822.1 L747.6 824.5 L750.7 826.9 L753.7 829.3 L756.7 831.6 L759.7 834 L762.7 836.4 L765.7 838.8 L768.7 841.2 L771.7 843.6 L774.8 846 L777.8 848.4 L780.8 850.8 L783.8 853.2 L786.8 855.6 L789.8 858 L792.8 860.4 L795.8 862.8 L798.9 865.2 L801.9 867.6 L804.9 870.1 L807.9 872.5 L810.9 874.9 L813.9 877.3 L816.9 879.7 L819.9 882.2 L823 884.6 L826 887 L829 889.4 L832 891.9 L835 894.3 L838 896.7 L841 899.1 L844 901.6 L847.1 904 L850.1 906.4 L853.1 908.9 L856.1 911.3 L859.1 913.7 L862.1 916.1 L865.1 918.6 L868.1 921 L871.2 923.4 L874.2 925.9 L877.2 928.3 L880.2 930.7 L883.2 933.1 L886.2 935.6 L889.2 938 L892.3 940.4 L895.3 942.8 L898.3 945.3 L901.3 947.7 L904.3 950.1 L907.3 952.5 L910.3 954.9 L913.3 957.4 L916.4 959.8 L919.4 962.2 L922.4 964.6 L925.4 967 L928.4 969.4 L931.4 971.8 L934.4 974.3 L937.4 976.7 L940.5 979.1 L943.5 981.5 L946.5 983.9 L949.5 986.3 L952.5 988.7 L955.5 991.2 L958.5 993.6 L961.5 996 L964.6 998.4 L967.6 1000.8 L970.6 1003.2 L973.6 1005.7 L976.6 1008.1 L979.6 1010.5 L982.6 1012.9 L985.6 1015.4 L988.7 1017.8 L991.7 1020.2 L994.7 1022.6 L997.7 1025.1 L1000.7 1027.5 L1003.7 1029.9 L1006.7 1032.4 L1009.7 1034.8 L1012.8 1037.3 L1015.8 1039.7 L1018.8 1042.1 L1021.8 1044.6 L1024.8 1047 L1027.8 1049.5 L1030.8 1051.9 L1033.8 1054.4 L1036.9 1056.9 L1039.9 1059.3 L1042.9 1061.8 L1045.9 1064.2 L1048.9 1066.7 L1051.9 1069.2 L1054.9 1071.7 L1058 1074.1 L1061 1076.6 L1064 1079.1 L1067 1081.6 L1070 1084.1 L1073 1086.6 L1076 1089.1 L1079 1091.6 L1082.1 1094.1 L1085.1 1096.6 L1088.1 1099.1 L1091.1 1101.6 L1094.1 1104.2 L1097.1 1106.7 L1100.1 1109.2 L1103.1 1111.7 L1106.2 1114.3 L1109.2 1116.8 L1112.2 1119.3 L1115.2 1121.9 L1118.2 1124.4 L1121.2 1126.9 L1124.2 1129.5 L1127.2 1132 L1130.3 1134.6 L1133.3 1137.1 L1136.3 1139.7 L1139.3 1142.2 L1142.3 1144.8 L1145.3 1147.3 L1148.3 1149.9 L1151.3 1152.4 L1154.4 1155 L1157.4 1157.6 L1160.4 1160.1 L1163.4 1162.7 L1166.4 1165.3 L1169.4 1167.8 L1172.4 1170.4 L1175.4 1173 L1178.5 1175.6 L1181.5 1178.1 L1184.5 1180.7 L1187.5 1183.3 L1190.5 1185.9 L1193.5 1188.5 L1196.5 1191.1 L1199.6 1193.6 L1202.6 1196.2 L1205.6 1198.8 L1208.6 1201.4 L1211.6 1204 L1214.6 1206.6 L1217.6 1209.2 L1220.6 1211.8 L1223.7 1214.4 L1226.7 1217 L1229.7 1219.6 L1232.7 1222.1 L1235.7 1224.7 L1238.7 1227.3 L1241.7 1229.9 L1244.7 1232.5 L1247.8 1235.1 L1250.8 1237.7 L1253.8 1240.3 L1256.8 1242.9 L1259.8 1245.5 L1262.8 1248.1 L1265.8 1250.7 L1268.8 1253.3 L1271.9 1255.9 L1274.9 1258.6 L1277.9 1261.2 L1280.9 1263.8 L1283.9 1266.4 L1286.9 1269 L1289.9 1271.6 L1292.9 1274.2 L1296 1276.8 L1299 1279.4 L1302 1282 L1305 1284.6 L1308 1287.2 L1311 1289.8 L1314 1292.4 L1317 1295 L1320.1 1297.6 L1323.1 1300.2 L1326.1 1302.9 L1329.1 1305.5 L1332.1 1308.1 L1335.1 1310.7 L1338.1 1313.4 L1341.1 1316 L1344.2 1318.6 L1347.2 1321.2 L1350.2 1323.9 L1353.2 1326.5" stroke="#00BF9F" /><path d="M241.5 551 L244.5 551.4 L247.5 551.9 L250.5 552.5 L253.6 553.2 L256.6 554 L259.6 554.9 L262.6 555.8 L265.6 557 L268.6 558.3 L271.7 559.7 L274.7 561.2 L277.7 562.7 L280.7 564.4 L283.7 566.1 L286.7 568 L289.7 569.9 L292.8 572 L295.8 574 L298.8 576.1 L301.8 578.3 L304.8 580.7 L307.8 583.2 L310.9 585.8 L313.9 588.3 L316.9 590.7 L319.9 592.9 L322.9 595 L325.9 597.2 L328.9 599.3 L332 601.4 L335 603.4 L338 605.4 L341 607.2 L344 609 L347 610.6 L350.1 612 L353.1 613.3 L356.1 614.6 L359.1 615.7 L362.1 616.8 L365.1 617.8 L368.1 618.8 L371.2 619.8 L374.2 620.8 L377.2 621.8 L380.2 622.9 L383.2 623.9 L386.2 625 L389.2 626 L392.3 627 L395.3 628 L398.3 629 L401.3 630 L404.3 631 L407.3 631.9 L410.4 632.9 L413.4 633.9 L416.4 634.9 L419.4 635.9 L422.4 636.9 L425.4 637.9 L428.4 638.9 L431.5 639.9 L434.5 641 L437.5 642 L440.5 643.1 L443.5 644.2 L446.5 645.3 L449.6 646.4 L452.6 647.6 L455.6 648.8 L458.6 650 L461.6 651.2 L464.6 652.4 L467.6 653.6 L470.7 654.8 L473.7 656 L476.7 657.3 L479.7 658.5 L482.7 659.8 L485.7 661.1 L488.8 662.4 L491.8 663.7 L494.8 665 L497.8 666.4 L500.8 667.7 L503.8 669.1 L506.8 670.5 L509.9 671.9 L512.9 673.3 L515.9 674.8 L518.9 676.2 L521.9 677.7 L524.9 679.2 L528 680.7 L531 682.2 L534 683.8 L537 685.3 L540 686.9 L543 688.5 L546 690.1 L549.1 691.8 L552.1 693.5 L555.1 695.2 L558.1 697 L561.1 698.9 L564.1 700.7 L567.2 702.6 L570.2 704.5 L573.2 706.5 L576.2 708.5 L579.2 710.5 L582.2 712.5 L585.2 714.6 L588.3 716.7 L591.3 718.8 L594.3 720.9 L597.3 723 L600.3 725.2 L603.3 727.3 L606.3 729.5 L609.4 731.6 L612.4 733.8 L615.4 736 L618.4 738.2 L621.4 740.4 L624.4 742.5 L627.5 744.7 L630.5 746.9 L633.5 749 L636.5 751.2 L639.5 753.3 L642.5 755.4 L645.5 757.5 L648.6 759.6 L651.6 761.7 L654.6 763.7 L657.6 765.8 L660.6 767.8 L663.6 769.8 L666.7 771.8 L669.7 773.8 L672.7 775.8 L675.7 777.9 L678.7 779.9 L681.7 781.9 L684.7 783.9 L687.8 785.9 L690.8 787.9 L693.8 789.9 L696.8 791.9 L699.8 793.9 L702.8 795.9 L705.9 797.9 L708.9 799.9 L711.9 801.9 L714.9 803.9 L717.9 805.9 L720.9 807.9 L723.9 809.9 L727 811.9 L730 813.9 L733 815.9 L736 817.9 L739 819.9 L742 821.9 L745.1 823.9 L748.1 825.9 L751.1 827.9 L754.1 829.9 L757.1 832 L760.1 834 L763.1 836 L766.2 838 L769.2 840.1 L772.2 842.1 L775.2 844.1 L778.2 846.2 L781.2 848.2 L784.3 850.3 L787.3 852.3 L790.3 854.4 L793.3 856.5 L796.3 858.5 L799.3 860.6 L802.3 862.6 L805.4 864.7 L808.4 866.8 L811.4 868.8 L814.4 870.9 L817.4 872.9 L820.4 875 L823.5 877.1 L826.5 879.1 L829.5 881.2 L832.5 883.3 L835.5 885.4 L838.5 887.4 L841.5 889.5 L844.6 891.6 L847.6 893.7 L850.6 895.8 L853.6 897.8 L856.6 899.9 L859.6 902 L862.6 904.1 L865.7 906.2 L868.7 908.3 L871.7 910.4 L874.7 912.6 L877.7 914.7 L880.7 916.8 L883.8 918.9 L886.8 921 L889.8 923.2 L892.8 925.3 L895.8 927.5 L898.8 929.6 L901.8 931.8 L904.9 933.9 L907.9 936.1 L910.9 938.3 L913.9 940.5 L916.9 942.6 L919.9 944.8 L923 947 L926 949.2 L929 951.5 L932 953.7 L935 955.9 L938 958.1 L941 960.4 L944.1 962.6 L947.1 964.9 L950.1 967.1 L953.1 969.4 L956.1 971.7 L959.1 973.9 L962.2 976.2 L965.2 978.5 L968.2 980.8 L971.2 983.1 L974.2 985.4 L977.2 987.7 L980.2 990 L983.3 992.3 L986.3 994.6 L989.3 996.9 L992.3 999.2 L995.3 1001.6 L998.3 1003.9 L1001.4 1006.2 L1004.4 1008.6 L1007.4 1010.9 L1010.4 1013.3 L1013.4 1015.6 L1016.4 1018 L1019.4 1020.4 L1022.5 1022.7 L1025.5 1025.1 L1028.5 1027.5 L1031.5 1029.9 L1034.5 1032.3 L1037.5 1034.6 L1040.6 1037 L1043.6 1039.4 L1046.6 1041.8 L1049.6 1044.2 L1052.6 1046.6 L1055.6 1049 L1058.6 1051.4 L1061.7 1053.8 L1064.7 1056.3 L1067.7 1058.7 L1070.7 1061.1 L1073.7 1063.5 L1076.7 1066 L1079.7 1068.4 L1082.8 1070.8 L1085.8 1073.2 L1088.8 1075.7 L1091.8 1078.1 L1094.8 1080.6 L1097.8 1083.1 L1100.9 1085.6 L1103.9 1088.1 L1106.9 1090.6 L1109.9 1093.1 L1112.9 1095.6 L1115.9 1098.1 L1118.9 1100.6 L1122 1103.1 L1125 1105.7 L1128 1108.2 L1131 1110.8 L1134 1113.3 L1137 1115.9 L1140.1 1118.4 L1143.1 1121 L1146.1 1123.6 L1149.1 1126.1 L1152.1 1128.7 L1155.1 1131.3 L1158.1 1133.9 L1161.2 1136.5 L1164.2 1139 L1167.2 1141.6 L1170.2 1144.2 L1173.2 1146.8 L1176.2 1149.4 L1179.3 1151.9 L1182.3 1154.5 L1185.3 1157.1 L1188.3 1159.7 L1191.3 1162.3 L1194.3 1164.8 L1197.3 1167.4 L1200.4 1170 L1203.4 1172.6 L1206.4 1175.1 L1209.4 1177.7 L1212.4 1180.2 L1215.4 1182.8 L1218.5 1185.3 L1221.5 1187.9 L1224.5 1190.4 L1227.5 1193 L1230.5 1195.5 L1233.5 1198 L1236.5 1200.5 L1239.6 1203 L1242.6 1205.5 L1245.6 1208 L1248.6 1210.5 L1251.6 1213 L1254.6 1215.4 L1257.7 1217.9 L1260.7 1220.4 L1263.7 1222.8 L1266.7 1225.3 L1269.7 1227.7 L1272.7 1230.1 L1275.7 1232.6 L1278.8 1235 L1281.8 1237.4 L1284.8 1239.9 L1287.8 1242.3 L1290.8 1244.7 L1293.8 1247.1 L1296.8 1249.6 L1299.9 1252 L1302.9 1254.4 L1305.9 1256.8 L1308.9 1259.2 L1311.9 1261.6 L1314.9 1264 L1318 1266.4 L1321 1268.8 L1324 1271.2 L1327 1273.6 L1330 1275.9 L1333 1278.3 L1336 1280.7 L1339.1 1283.1 L1342.1 1285.4 L1345.1 1287.8 L1348.1 1290.2 L1351.1 1292.5 L1354.1 1294.9 L1357.2 1297.3 L1360.2 1299.6 L1363.2 1302 L1366.2 1304.3 L1369.2 1306.7 L1372.2 1309 L1375.2 1311.4 L1378.3 1313.7 L1381.3 1316 L1384.3 1318.4 L1387.3 1320.7 L1390.3 1323 L1393.3 1325.3 L1396.4 1327.7 L1399.4 1330 L1402.4 1332.3 L1405.4 1334.6" stroke="#00BF9F" stroke-dasharray="40 26"/><path d="M241.5 591.9 L243 562.5 L244.5 561.1 L246 562.7 L247.5 561.6 L249 562.4 L250.5 563.2 L252 562.4 L253.5 562.7 L255 562.1 L256.5 561.6 L258 561.8 L259.5 562.1 L261 563.2 L262.5 563 L264 563.3 L265.5 564.2 L267 562.9 L268.5 563.3 L270 564.3 L271.5 563.3 L273 563.6 L274.5 564.7 L276 564.8 L277.5 565.9 L279 566.3 L280.5 567.7 L282 568.6 L283.5 568.6 L285 570.4 L286.5 571 L288 571.3 L289.5 573.9 L291 573.5 L292.5 574.3 L294 575.2 L295.5 577.3 L297 578.8 L298.5 579.6 L300 579.8 L301.5 580.5 L303 581 L304.5 583.3 L306 584.2 L307.5 584.9 L309 586.6 L310.5 587.4 L312 589.6 L313.5 590.4 L315 590.7 L316.5 593.2 L318 592.8 L319.5 595.1 L321 596.2 L322.5 597.2 L324 598.2 L325.5 601 L327 600.8 L328.5 603.3 L330 605.4 L331.5 605.2 L333 606.7 L334.5 608.9 L336 610.1 L337.5 611.8 L339 613.5 L340.5 613.6 L342 615.2 L343.5 616.5 L345 617.3 L346.5 620.3 L348 621.4 L349.5 622.5 L351 622.4 L352.5 625.3 L354 626.3 L355.5 626.9 L357 628.6 L358.5 629.1 L360 629.7 L361.5 630.5 L363 631.8 L364.5 632.3 L366 633.9 L367.5 635.6 L369 636.3 L370.5 637.4 L372 637.9 L373.5 637.8 L375 639.1 L376.5 639.6 L378 641.1 L379.5 641.3 L381 641.5 L382.5 642.9 L384 644.2 L385.5 643.4 L387 645.4 L388.5 644.4 L390 645.5 L391.5 646.1 L393 647.8 L394.5 648.8 L396 649 L397.5 648.8 L399 650.5 L400.5 650 L402 650.4 L403.5 652.3 L405 652.3 L406.5 653 L408 653.5 L409.5 654.7 L411 654.2 L412.5 655.5 L414 655.8 L415.5 656.6 L417 656.3 L418.5 657.4 L420 657.6 L421.5 657.6 L423 657.9 L424.5 659.3 L426 658.7 L427.5 660.8 L429 659.8 L430.5 660.1 L432 660.7 L433.5 662.9 L435 662.2 L436.5 662.3 L438 662.5 L439.5 663 L441 664.8 L442.5 665.2 L444 665.8 L445.5 666.3 L447 665.5 L448.5 667 L450 667 L451.5 668.4 L453 668.9 L454.5 669.5 L456 668.4 L457.5 670.5 L459 671.1 L460.5 671.6 L462 670.4 L463.5 671.1 L465 671.4 L466.5 671.8 L468 673.9 L469.5 674.4 L471 674.5 L472.5 675.4 L474 675.6 L475.5 675.4 L477 675.6 L478.5 676.1 L480 678 L481.5 677.4 L483 678.2 L484.5 679 L486 678.7 L487.5 679.8 L489 680.4 L490.5 681.9 L492 681.8 L493.5 682.3 L495 684.2 L496.5 683.9 L498 685.2 L499.5 685.4 L501 684.8 L502.5 686.2 L504 686.9 L505.5 688.2 L507 688 L508.5 689.4 L510 689.7 L511.5 689.7 L513 691.7 L514.5 690.8 L516 692.9 L517.5 692.3 L519 692.6 L520.5 693.7 L522 695.5 L523.5 696.6 L525 695.3 L526.5 697 L528 697.7 L529.5 699 L531 698.4 L532.5 699.8 L534 700.2 L535.5 701.8 L537 701.4 L538.5 703.4 L540 702.8 L541.5 703.4 L543 705.1 L544.5 705.4 L546 705.3 L547.5 707.1 L549 706.7 L550.5 708.8 L552 709.3 L553.5 710.2 L555 710.6 L556.5 710.8 L558 711.6 L559.5 712.3 L561 714 L562.5 713.1 L564 715.4 L565.5 714.4 L567 715.5 L568.5 716.4 L570 718.4 L571.5 718.3 L573 718.8 L574.5 720.5 L576 720 L577.5 721.1 L579 722 L580.5 723.2 L582 723.9 L583.5 724.4 L585 724.6 L586.5 725.3 L588 725.6 L589.5 727.7 L591 728.1 L592.5 729 L594 728.6 L595.5 729.9 L597 731.3 L598.5 731.6 L600 731.4 L601.5 732.8 L603 734.4 L604.5 733.8 L606 734.5 L607.5 735.4 L609 737 L610.5 738 L612 737.3 L613.5 738 L615 738.9 L616.5 739.8 L618 740.9 L619.5 740.9 L621 742 L622.5 742.4 L624 744.7 L625.5 744.9 L627 744.4 L628.5 746.8 L630 745.8 L631.5 747.1 L633 749 L634.5 749.3 L636 749.9 L637.5 750 L639 750.3 L640.5 751.8 L642 751.5 L643.5 752.4 L645 753.5 L646.5 753.5 L648 754.9 L649.5 756.4 L651 756.9 L652.5 757.2 L654 758.2 L655.5 758.6 L657 758.6 L658.5 760.3 L660 760.6 L661.5 761.9 L663 763 L664.5 762.7 L666 763.7 L667.5 764.8 L669 764.9 L670.5 765.2 L672 766.9 L673.5 767.9 L675 768.4 L676.5 769 L678 770 L679.5 770.4 L681 771.1 L682.5 771.4 L684 771.8 L685.5 773.2 L687 772.9 L688.5 774.3 L690 775.7 L691.5 776.3 L693 776.9 L694.5 776.9 L696 777.9 L697.5 778.8 L699 779.8 L700.5 780.2 L702 781.4 L703.5 782.7 L705 782 L706.5 783.7 L708 784.7 L709.5 784.7 L711 785.6 L712.5 787.4 L714 786.3 L715.5 788.1 L717 788.1 L718.5 790.1 L720 791.2 L721.5 791.2 L723 791.1 L724.5 792.9 L726 793.6 L727.5 794.7 L729 795.1 L730.5 796.2 L732 797.4 L733.5 797.6 L735 798.2 L736.5 800.1 L738 799.5 L739.5 801.2 L741 801.5 L742.5 803.1 L744 802.6 L745.5 805.2 L747 804.8 L748.5 805.1 L750 806.4 L751.5 807.5 L753 807.6 L754.5 809.3 L756 810.2 L757.5 811.7 L759 811.9 L760.5 812.6 L762 813.4 L763.5 815.4 L765 816.7 L766.5 816.9 L768 817.2 L769.5 819.3 L771 819.4 L772.5 820 L774 820.9 L775.5 823.1 L777 824.2 L778.5 824.8 L780 825.5 L781.5 826.7 L783 827 L784.5 829.5 L786 829.3 L787.5 830.9 L789 832.2 L790.5 833.3 L792 833.6 L793.5 834.3 L795 835.8 L796.5 836 L798 838.5 L799.5 838.6 L801 840.6 L802.5 840.5 L804 841.8 L805.5 842.6 L807 844 L808.5 844.6 L810 845.3 L811.5 847.8 L813 848 L814.5 849 L816 850.2 L817.5 851.7 L819 852.6 L820.5 854.2 L822 855.3 L823.5 855.8 L825 858 L826.5 859 L828 858.4 L829.5 861.1 L831 862.4 L832.5 863.2 L834 862.9 L835.5 865.5 L837 866.2 L838.5 865.9 L840 866.9 L841.5 870.2 L843 870.6 L844.5 870.8 L846 871.5 L847.5 872.7 L849 874 L850.5 876.4 L852 876.4 L853.5 877 L855 879.9 L856.5 880.7 L858 880.3 L859.5 883.2 L861 883.5 L862.5 885 L864 885.8 L865.5 887.5 L867 888.3 L868.5 889.5 L870 888.9 L871.5 891.2 L873 891.8 L874.5 893.5 L876 893.7 L877.5 896 L879 896.1 L880.5 896.4 L882 897.4 L883.5 898.2 L885 900.2 L886.5 900 L888 902.2 L889.5 902.4 L891 904.4 L892.5 905.5 L894 906.7 L895.5 908.6 L897 907.2 L898.5 910.7 L900 910.7 L901.5 912 L903 913.4 L904.5 915 L906 914.6 L907.5 915.8 L909 918.5 L910.5 916.9 L912 919.7 L913.5 920.7 L915 919.9 L916.5 922.8 L918 924 L919.5 925.9 L921 925.1 L922.5 928.2 L924 927.8 L925.5 928.7 L927 931.1 L928.5 929.4 L930 932.7 L931.5 933.5 L933 933.6 L934.5 936.4 L936 935.8 L937.5 937.2 L939 938.5 L940.5 940.4 L942 939.5 L943.5 941.4 L945 942.4 L946.5 943.9 L948 945.9 L949.5 945.2 L951 948.1 L952.5 947.7 L954 949.1 L955.5 949.4 L957 951.3 L958.5 954 L960 954 L961.5 955.5 L963 955 L964.5 956 L966 957 L967.5 959.1 L969 960.4 L970.5 962 L972 960.4 L973.5 964 L975 965.7 L976.5 965.5 L978 964.7 L979.5 966.7 L981 966.7 L982.5 968.5 L984 972.4 L985.5 972.3 L987 973.6 L988.5 975.2 L990 976.8 L991.5 976.7 L993 977.8 L994.5 979 L996 980.3 L997.5 981.1 L999 982.5 L1000.5 981.7 L1002 984.7 L1003.5 984.9 L1005 987.3 L1006.5 985.7 L1008 987.1 L1009.5 987.6 L1011 991.8 L1012.5 993.5 L1014 993.5 L1015.5 993.4 L1017 996.5 L1018.5 997.4 L1020 997.6 L1021.5 997.4 L1023 998.7 L1024.5 1000.3 L1026 1001 L1027.5 1002.6 L1029 1004.6 L1030.5 1007 L1032 1004.3 L1033.5 1007.7 L1035 1006.5 L1036.5 1007.9 L1038 1012.1 L1039.5 1012.2 L1041 1014.9 L1042.5 1013.9 L1044 1013 L1045.5 1015.8 L1047 1017.9 L1048.5 1020.6 L1050 1021.9 L1051.5 1020.8 L1053 1021.6 L1054.5 1021.3 L1056 1024.9 L1057.5 1024.1 L1059 1024.9 L1060.5 1025.4 L1062 1026.5 L1063.5 1030.8 L1065 1029.3 L1066.5 1034.4 L1068 1031.4 L1069.5 1036.3 L1071 1033.9 L1072.5 1034.5 L1074 1039 L1075.5 1037.8 L1077 1041.4 L1078.5 1039.8 L1080 1040.3 L1081.5 1045 L1083 1045.9 L1084.5 1047.8 L1086 1048.3 L1087.5 1046.2 L1089 1050.1 L1090.5 1051.7 L1092 1051.6 L1093.5 1055.2 L1095 1052.9 L1096.5 1057.7 L1098 1057.6 L1099.5 1055.1 L1101 1056.3 L1102.5 1060.8 L1104 1062.8 L1105.5 1060.1 L1107 1062.5 L1108.5 1065.9 L1110 1064.1 L1111.5 1069 L1113 1068.2 L1114.5 1067.1 L1116 1069.9 L1117.5 1072.2 L1119 1072.7 L1120.5 1075.2 L1122 1073.5 L1123.5 1078.3 L1125 1077.1 L1126.5 1079.8 L1128 1081 L1129.5 1081 L1131 1082 L1132.5 1085.5 L1134 1087.6 L1135.5 1087.9 L1137 1087.9 L1138.5 1087.6 L1140 1087.5 L1141.5 1094 L1143 1093.7 L1144.5 1095.6 L1146 1094.1 L1147.5 1096.9 L1149 1100.3 L1150.5 1100.7 L1152 1100.7 L1153.5 1100.2 L1155 1102.2 L1156.5 1106.2 L1158 1104.5 L1159.5 1107.6 L1161 1108.4 L1162.5 1111.4 L1164 1112.2 L1165.5 1110.4 L1167 1110 L1168.5 1112.8 L1170 1115.1 L1171.5 1117.4 L1173 1120.1 L1174.5 1121.9 L1176 1118 L1177.5 1124.2 L1179 1125.4 L1180.5 1127 L1182 1126.5 L1183.5 1126 L1185 1130.9 L1186.5 1132 L1188 1132.5 L1189.5 1135.3 L1191 1133.1 L1192.5 1132.7 L1194 1137 L1195.5 1139.9 L1197 1137.4 L1198.5 1142.3 L1200 1144.8 L1201.5 1141.6 L1203 1145.3 L1204.5 1147.1 L1206 1147.1 L1207.5 1146.7 L1209 1148.3 L1210.5 1152.9 L1212 1154.5 L1213.5 1153.6 L1215 1152.5 L1216.5 1158.6 L1218 1159.7 L1219.5 1157.4 L1221 1161 L1222.5 1164.5 L1224 1165.7 L1225.5 1164.6 L1227 1165.6 L1228.5 1167.6 L1230 1166.2 L1231.5 1167.5 L1233 1168.7 L1234.5 1173.6 L1236 1172.6 L1237.5 1175.2 L1239 1175.4 L1240.5 1177.5 L1242 1176.2 L1243.5 1176.7 L1245 1184.7 L1246.5 1181.5 L1248 1180.9 L1249.5 1185.9 L1251 1188.3 L1252.5 1185 L1254 1189.4 L1255.5 1188.8 L1257 1191.3 L1258.5 1188.9 L1260 1190.3 L1261.5 1198.4 L1263 1198.7 L1264.5 1197.2 L1266 1199 L1267.5 1197.9 L1269 1202.9 L1270.5 1201.5 L1272 1206.5 L1273.5 1206.4 L1275 1208 L1276.5 1210.2 L1278 1206.1 L1279.5 1205.6 L1281 1208 L1282.5 1209 L1284 1209.4 L1285.5 1210.3 L1287 1215.3 L1288.5 1218.8 L1290 1216.8 L1291.5 1221.6 L1293 1222.5 L1294.5 1217.1 L1296 1222.4 L1297.5 1221.9 L1299 1220.9 L1300.5 1228.5 L1302 1224.2 L1303.5 1227.7 L1305 1229.4 L1306.5 1233 L1308 1231.9 L1309.5 1230.8 L1311 1232.3 L1312.5 1231.2 L1314 1238.6 L1315.5 1239.9 L1317 1235 L1318.5 1234.6 L1320 1237.5 L1321.5 1239.3 L1323 1244.8 L1324.5 1245.9 L1326 1246.5 L1327.5 1241.3 L1329 1248.4 L1330.5 1248.8 L1332 1249.5 L1333.5 1253.3 L1335 1246.9 L1336.5 1248.7 L1338 1254.8 L1339.5 1257.5 L1341 1256.4 L1342.5 1254.5 L1344 1258 L1345.5 1260.5 L1347 1256.3 L1348.5 1259.2 L1350 1259.8 L1351.5 1259.8 L1353 1264 L1354.5 1262.5 L1356 1264.2 L1357.5 1264.6 L1359 1270.2 L1360.5 1265.8 L1362 1272.9 L1363.5 1269.7 L1365 1269.6 L1366.5 1278.2 L1368 1273.5 L1369.5 1280.7 L1371 1281.3 L1372.5 1282.7 L1374 1277.7 L1375.5 1281.5 L1377 1279.8 L1378.5 1288 L1380 1288.5 L1381.5 1288 L1383 1287.7 L1384.5 1288 L1386 1293.4 L1387.5 1291.8 L1389 1294.3 L1390.5 1291.5 L1392 1293.5 L1393.5 1293.4 L1395 1300.3 L1396.5 1300.3 L1398 1298.2 L1399.5 1305.7 L1401 1302 L1402.5 1304.6 L1404 1303.8 L1405.5 1306.2 L1407 1312.3 L1408.5 1309.5 L1410 1309.2 L1411.5 1313.7 L1413 1313.1 L1414.5 1321.7 L1416 1312.9 L1417.5 1326.4 L1419 1314.2 L1420.5 1328.9 L1422 1326.9 L1423.5 1320.2 L1425 1326.6 L1426.5 1324.2 L1428 1324.9 L1429.5 1325 L1431 1330 L1432.5 1346.5 L1434 1348.7 L1435.5 1348.9" stroke="#00BF9F" /><rect x="1291.4" y="1270.6" width="32.8" height="32.8" stroke="#00BF9F" stroke-width="6.9" stroke-linejoin="miter"/><rect x="1056.2" y="1069.8" width="32.8" height="32.8" stroke="#00BF9F" stroke-width="6.9" stroke-linejoin="miter"/><rect x="872.9" y="921.6" width="32.8" height="32.8" stroke="#00BF9F" stroke-width="6.9" stroke-linejoin="miter"/><rect x="730" y="807.1" width="32.8" height="32.8" stroke="#00BF9F" stroke-width="6.9" stroke-linejoin="miter"/><rect x="618.6" y="721" width="32.8" height="32.8" stroke="#00BF9F" stroke-width="6.9" stroke-linejoin="miter"/><rect x="531.8" y="673.2" width="32.8" height="32.8" stroke="#00BF9F" stroke-width="6.9" stroke-linejoin="miter"/><rect x="464.2" y="640.3" width="32.8" height="32.8" stroke="#00BF9F" stroke-width="6.9" stroke-linejoin="miter"/><rect x="411.4" y="621.4" width="32.8" height="32.8" stroke="#00BF9F" stroke-width="6.9" stroke-linejoin="miter"/><rect x="370.3" y="608.5" width="32.8" height="32.8" stroke="#00BF9F" stroke-width="6.9" stroke-linejoin="miter"/><rect x="338.3" y="599.1" width="32.8" height="32.8" stroke="#00BF9F" stroke-width="6.9" stroke-linejoin="miter"/><rect x="313.3" y="587.4" width="32.8" height="32.8" stroke="#00BF9F" stroke-width="6.9" stroke-linejoin="miter"/><rect x="293.9" y="570.2" width="32.8" height="32.8" stroke="#00BF9F" stroke-width="6.9" stroke-linejoin="miter"/><rect x="278.7" y="557.4" width="32.8" height="32.8" stroke="#00BF9F" stroke-width="6.9" stroke-linejoin="miter"/><rect x="266.9" y="549.1" width="32.8" height="32.8" stroke="#00BF9F" stroke-width="6.9" stroke-linejoin="miter"/><rect x="257.7" y="544.4" width="32.8" height="32.8" stroke="#00BF9F" stroke-width="6.9" stroke-linejoin="miter"/><rect x="250.5" y="539.8" width="32.8" height="32.8" stroke="#00BF9F" stroke-width="6.9" stroke-linejoin="miter"/><rect x="244.9" y="537.5" width="32.8" height="32.8" stroke="#00BF9F" stroke-width="6.9" stroke-linejoin="miter"/><rect x="240.5" y="536.1" width="32.8" height="32.8" stroke="#00BF9F" stroke-width="6.9" stroke-linejoin="miter"/><rect x="237.1" y="535.2" width="32.8" height="32.8" stroke="#00BF9F" stroke-width="6.9" stroke-linejoin="miter"/><rect x="234.5" y="534.5" width="32.8" height="32.8" stroke="#00BF9F" stroke-width="6.9" stroke-linejoin="miter"/><rect x="232.4" y="534" width="32.8" height="32.8" stroke="#00BF9F" stroke-width="6.9" stroke-linejoin="miter"/><rect x="230.8" y="533.7" width="32.8" height="32.8" stroke="#00BF9F" stroke-width="6.9" stroke-linejoin="miter"/><rect x="229.5" y="533.4" width="32.8" height="32.8" stroke="#00BF9F" stroke-width="6.9" stroke-linejoin="miter"/><rect x="228.6" y="533.2" width="32.8" height="32.8" stroke="#00BF9F" stroke-width="6.9" stroke-linejoin="miter"/><rect x="227.8" y="533.1" width="32.8" height="32.8" stroke="#00BF9F" stroke-width="6.9" stroke-linejoin="miter"/><rect x="227.2" y="532.9" width="32.8" height="32.8" stroke="#00BF9F" stroke-width="6.9" stroke-linejoin="miter"/><rect x="226.7" y="532.9" width="32.8" height="32.8" stroke="#00BF9F" stroke-width="6.9" stroke-linejoin="miter"/><rect x="226.4" y="532.8" width="32.8" height="32.8" stroke="#00BF9F" stroke-width="6.9" stroke-linejoin="miter"/><rect x="226.1" y="532.8" width="32.8" height="32.8" stroke="#00BF9F" stroke-width="6.9" stroke-linejoin="miter"/><rect x="225.9" y="532.7" width="32.8" height="32.8" stroke="#00BF9F" stroke-width="6.9" stroke-linejoin="miter"/><rect x="225.7" y="532.7" width="32.8" height="32.8" stroke="#00BF9F" stroke-width="6.9" stroke-linejoin="miter"/><rect x="225.6" y="532.7" width="32.8" height="32.8" stroke="#00BF9F" stroke-width="6.9" stroke-linejoin="miter"/><rect x="225.5" y="532.7" width="32.8" height="32.8" stroke="#00BF9F" stroke-width="6.9" stroke-linejoin="miter"/><path d="M230.5 540L252.5 562M230.5 562L252.5 540" stroke="#00BF9F" stroke-width="6.9"/><path d="M239.5 541.5L261.5 563.5M239.5 563.5L261.5 541.5" stroke="#00BF9F" stroke-width="6.9"/><path d="M265.3 551L287.3 573M265.3 573L287.3 551" stroke="#00BF9F" stroke-width="6.9"/><path d="M307.6 581L329.6 603M307.6 603L329.6 581" stroke="#00BF9F" stroke-width="6.9"/><path d="M366.7 611L388.7 633M366.7 633L388.7 611" stroke="#00BF9F" stroke-width="6.9"/><path d="M442.5 637L464.5 659M442.5 659L464.5 637" stroke="#00BF9F" stroke-width="6.9"/><path d="M534.9 679.1L556.9 701.1M534.9 701.1L556.9 679.1" stroke="#00BF9F" stroke-width="6.9"/><path d="M644 753L666 775M644 775L666 753" stroke="#00BF9F" stroke-width="6.9"/><path d="M769.8 837L791.8 859M769.8 859L791.8 837" stroke="#00BF9F" stroke-width="6.9"/><path d="M912.3 936.3L934.3 958.3M912.3 958.3L934.3 936.3" stroke="#00BF9F" stroke-width="6.9"/><path d="M1071.5 1059.6L1093.5 1081.6M1071.5 1081.6L1093.5 1059.6" stroke="#00BF9F" stroke-width="6.9"/><path d="M1247.4 1207.5L1269.4 1229.5M1247.4 1229.5L1269.4 1207.5" stroke="#00BF9F" stroke-width="6.9"/><circle cx="241.5" cy="592.5" r="21" stroke="#00BF9F" stroke-width="6.9"/><circle cx="369.2" cy="636" r="21" stroke="#00BF9F" stroke-width="6.9"/><circle cx="496.8" cy="684" r="21" stroke="#00BF9F" stroke-width="6.9"/><circle cx="624.5" cy="744" r="21" stroke="#00BF9F" stroke-width="6.9"/><circle cx="752.1" cy="808.1" r="21" stroke="#00BF9F" stroke-width="6.9"/><circle cx="879.8" cy="896.5" r="21" stroke="#00BF9F" stroke-width="6.9"/><circle cx="1007.4" cy="988" r="21" stroke="#00BF9F" stroke-width="6.9"/><circle cx="1135.1" cy="1086" r="21" stroke="#00BF9F" stroke-width="6.9"/><circle cx="1262.7" cy="1195.9" r="21" stroke="#00BF9F" stroke-width="6.9"/><circle cx="1390.4" cy="1294.4" r="21" stroke="#00BF9F" stroke-width="6.9"/></g>
<g><path d="M241.5 579 L244.5 579.6 L247.5 580.2 L250.5 580.9 L253.5 581.6 L256.5 582.4 L259.5 583.3 L262.6 584.3 L265.6 585.2 L268.6 586 L271.6 586.8 L274.6 587.8 L277.6 588.9 L280.6 590.2 L283.6 591.5 L286.6 592.7 L289.6 593.9 L292.6 595.1 L295.6 596.3 L298.6 597.8 L301.7 599.4 L304.7 601.2 L307.7 603 L310.7 604.8 L313.7 606.5 L316.7 608.2 L319.7 610 L322.7 611.7 L325.7 613.4 L328.7 615 L331.7 616.4 L334.7 617.7 L337.7 619 L340.7 620.1 L343.8 621.3 L346.8 622.3 L349.8 623.3 L352.8 624.3 L355.8 625.1 L358.8 626 L361.8 626.7 L364.8 627.4 L367.8 628.1 L370.8 628.7 L373.8 629.3 L376.8 629.8 L379.8 630.4 L382.9 631 L385.9 631.6 L388.9 632.2 L391.9 632.9 L394.9 633.7 L397.9 634.4 L400.9 635.2 L403.9 636 L406.9 636.9 L409.9 637.7 L412.9 638.6 L415.9 639.5 L418.9 640.3 L422 641.2 L425 642.1 L428 643 L431 643.9 L434 644.8 L437 645.6 L440 646.5 L443 647.3 L446 648.2 L449 649 L452 649.8 L455 650.7 L458 651.5 L461 652.3 L464.1 653.2 L467.1 654 L470.1 654.9 L473.1 655.8 L476.1 656.7 L479.1 657.6 L482.1 658.5 L485.1 659.5 L488.1 660.5 L491.1 661.5 L494.1 662.5 L497.1 663.6 L500.1 664.6 L503.2 665.7 L506.2 666.8 L509.2 668 L512.2 669.1 L515.2 670.3 L518.2 671.4 L521.2 672.6 L524.2 673.8 L527.2 675.1 L530.2 676.3 L533.2 677.5 L536.2 678.8 L539.2 680.1 L542.3 681.3 L545.3 682.6 L548.3 683.9 L551.3 685.2 L554.3 686.5 L557.3 687.8 L560.3 689.1 L563.3 690.4 L566.3 691.8 L569.3 693.1 L572.3 694.5 L575.3 695.8 L578.3 697.2 L581.3 698.6 L584.4 700 L587.4 701.4 L590.4 702.8 L593.4 704.3 L596.4 705.7 L599.4 707.1 L602.4 708.6 L605.4 710.1 L608.4 711.5 L611.4 713 L614.4 714.5 L617.4 716 L620.4 717.5 L623.5 719 L626.5 720.6 L629.5 722.1 L632.5 723.7 L635.5 725.2 L638.5 726.8 L641.5 728.3 L644.5 729.9 L647.5 731.5 L650.5 733.1 L653.5 734.7 L656.5 736.3 L659.5 737.9 L662.6 739.5 L665.6 741.2 L668.6 742.8 L671.6 744.5 L674.6 746.2 L677.6 747.9 L680.6 749.6 L683.6 751.3 L686.6 753 L689.6 754.8 L692.6 756.5 L695.6 758.3 L698.6 760 L701.6 761.8 L704.7 763.6 L707.7 765.3 L710.7 767.1 L713.7 768.9 L716.7 770.7 L719.7 772.5 L722.7 774.3 L725.7 776.1 L728.7 777.9 L731.7 779.7 L734.7 781.5 L737.7 783.3 L740.7 785.1 L743.8 786.9 L746.8 788.8 L749.8 790.6 L752.8 792.4 L755.8 794.2 L758.8 796 L761.8 797.8 L764.8 799.6 L767.8 801.4 L770.8 803.2 L773.8 805 L776.8 806.8 L779.8 808.6 L782.9 810.5 L785.9 812.3 L788.9 814.1 L791.9 815.9 L794.9 817.8 L797.9 819.6 L800.9 821.5 L803.9 823.3 L806.9 825.1 L809.9 827 L812.9 828.8 L815.9 830.7 L818.9 832.6 L821.9 834.4 L825 836.3 L828 838.1 L831 840 L834 841.9 L837 843.7 L840 845.6 L843 847.5 L846 849.3 L849 851.2 L852 853.1 L855 854.9 L858 856.8 L861 858.7 L864.1 860.6 L867.1 862.4 L870.1 864.3 L873.1 866.2 L876.1 868 L879.1 869.9 L882.1 871.8 L885.1 873.7 L888.1 875.5 L891.1 877.4 L894.1 879.3 L897.1 881.1 L900.1 883 L903.2 884.9 L906.2 886.7 L909.2 888.6 L912.2 890.4 L915.2 892.3 L918.2 894.1 L921.2 896 L924.2 897.9 L927.2 899.7 L930.2 901.6 L933.2 903.4 L936.2 905.3 L939.2 907.1 L942.2 908.9 L945.3 910.8 L948.3 912.6 L951.3 914.5 L954.3 916.3 L957.3 918.2 L960.3 920 L963.3 921.9 L966.3 923.7 L969.3 925.6 L972.3 927.4 L975.3 929.2 L978.3 931.1 L981.3 932.9 L984.4 934.8 L987.4 936.6 L990.4 938.5 L993.4 940.3 L996.4 942.1 L999.4 944 L1002.4 945.8 L1005.4 947.7 L1008.4 949.5 L1011.4 951.4 L1014.4 953.2 L1017.4 955.1 L1020.4 956.9 L1023.5 958.8 L1026.5 960.6 L1029.5 962.5 L1032.5 964.3 L1035.5 966.2 L1038.5 968.1 L1041.5 969.9 L1044.5 971.8 L1047.5 973.6 L1050.5 975.5 L1053.5 977.4 L1056.5 979.2 L1059.5 981.1 L1062.5 983 L1065.6 984.8 L1068.6 986.7 L1071.6 988.6 L1074.6 990.5 L1077.6 992.4 L1080.6 994.2 L1083.6 996.1 L1086.6 998 L1089.6 999.9 L1092.6 1001.8 L1095.6 1003.7 L1098.6 1005.6 L1101.6 1007.5 L1104.7 1009.4 L1107.7 1011.3 L1110.7 1013.2 L1113.7 1015.1 L1116.7 1017 L1119.7 1018.9 L1122.7 1020.8 L1125.7 1022.8 L1128.7 1024.7 L1131.7 1026.6 L1134.7 1028.5 L1137.7 1030.5 L1140.7 1032.4 L1143.8 1034.3 L1146.8 1036.2 L1149.8 1038.2 L1152.8 1040.1 L1155.8 1042 L1158.8 1044 L1161.8 1045.9 L1164.8 1047.9 L1167.8 1049.8 L1170.8 1051.7 L1173.8 1053.7 L1176.8 1055.6 L1179.8 1057.6 L1182.8 1059.5 L1185.9 1061.5 L1188.9 1063.4 L1191.9 1065.4 L1194.9 1067.3 L1197.9 1069.3 L1200.9 1071.2 L1203.9 1073.2 L1206.9 1075.2 L1209.9 1077.1 L1212.9 1079.1 L1215.9 1081 L1218.9 1083 L1221.9 1085 L1225 1086.9 L1228 1088.9 L1231 1090.9 L1234 1092.8 L1237 1094.8 L1240 1096.8 L1243 1098.7 L1246 1100.7 L1249 1102.7 L1252 1104.6 L1255 1106.6 L1258 1108.6 L1261 1110.5 L1264.1 1112.5 L1267.1 1114.5 L1270.1 1116.5 L1273.1 1118.4 L1276.1 1120.4 L1279.1 1122.4 L1282.1 1124.3 L1285.1 1126.3 L1288.1 1128.3 L1291.1 1130.3 L1294.1 1132.2 L1297.1 1134.2 L1300.1 1136.2 L1303.1 1138.2 L1306.2 1140.1 L1309.2 1142.1 L1312.2 1144.1 L1315.2 1146.1 L1318.2 1148 L1321.2 1150 L1324.2 1152 L1327.2 1153.9 L1330.2 1155.9 L1333.2 1157.9 L1336.2 1159.9 L1339.2 1161.8 L1342.2 1163.8 L1345.3 1165.8 L1348.3 1167.7 L1351.3 1169.7 L1354.3 1171.7 L1357.3 1173.7 L1360.3 1175.6 L1363.3 1177.6 L1366.3 1179.6 L1369.3 1181.6 L1372.3 1183.6 L1375.3 1185.6 L1378.3 1187.6 L1381.3 1189.6 L1384.4 1191.6 L1387.4 1193.6 L1390.4 1195.6 L1393.4 1197.6 L1396.4 1199.6 L1399.4 1201.6 L1402.4 1203.5 L1405.4 1205.5 L1408.4 1207.5 L1411.4 1209.5 L1414.4 1211.5 L1417.4 1213.5 L1420.4 1215.5 L1423.4 1217.5 L1426.5 1219.5 L1429.5 1221.4 L1432.5 1223.4 L1435.5 1225.4 L1438.5 1227.4 L1441.5 1229.3 L1444.5 1231.3 L1447.5 1233.2 L1450.5 1235.2 L1453.5 1237.1 L1456.5 1239.1 L1459.5 1241 L1462.5 1242.9 L1465.6 1244.9 L1468.6 1246.8 L1471.6 1248.7 L1474.6 1250.6 L1477.6 1252.6 L1480.6 1254.5 L1483.6 1256.4 L1486.6 1258.3 L1489.6 1260.2 L1492.6 1262.1 L1495.6 1264 L1498.6 1265.9 L1501.6 1267.8 L1504.7 1269.7 L1507.7 1271.6 L1510.7 1273.5 L1513.7 1275.4 L1516.7 1277.3 L1519.7 1279.2 L1522.7 1281.1 L1525.7 1283 L1528.7 1284.9 L1531.7 1286.8 L1534.7 1288.6 L1537.7 1290.5 L1540.7 1292.4 L1543.7 1294.3 L1546.8 1296.1 L1549.8 1298 L1552.8 1299.9 L1555.8 1301.7 L1558.8 1303.6 L1561.8 1305.4 L1564.8 1307.3 L1567.8 1309.2 L1570.8 1311 L1573.8 1312.9 L1576.8 1314.7 L1579.8 1316.5 L1582.8 1318.4 L1585.9 1320.2 L1588.9 1322.1 L1591.9 1323.9 L1594.9 1325.7 L1597.9 1327.6 L1600.9 1329.4 L1603.9 1331.2" stroke="#00FF80" /><path d="M241.5 580 L244.5 580.6 L247.5 581.2 L250.5 581.9 L253.6 582.6 L256.6 583.4 L259.6 584.2 L262.6 585.1 L265.6 586 L268.6 587 L271.6 588 L274.6 589.1 L277.7 590.2 L280.7 591.4 L283.7 592.8 L286.7 594.3 L289.7 596.1 L292.7 597.9 L295.7 599.7 L298.7 601.4 L301.8 602.9 L304.8 604.3 L307.8 605.8 L310.8 607.2 L313.8 608.6 L316.8 609.9 L319.8 611.3 L322.8 612.5 L325.9 613.8 L328.9 614.9 L331.9 616.1 L334.9 617.2 L337.9 618.2 L340.9 619.2 L343.9 620.2 L346.9 621.2 L350 622.1 L353 623 L356 623.9 L359 624.8 L362 625.7 L365 626.6 L368 627.4 L371 628.3 L374.1 629.1 L377.1 630 L380.1 630.8 L383.1 631.6 L386.1 632.4 L389.1 633.1 L392.1 633.9 L395.1 634.7 L398.2 635.5 L401.2 636.3 L404.2 637.1 L407.2 637.9 L410.2 638.7 L413.2 639.5 L416.2 640.2 L419.2 641 L422.3 641.7 L425.3 642.5 L428.3 643.3 L431.3 644 L434.3 644.8 L437.3 645.5 L440.3 646.3 L443.3 647.1 L446.4 647.8 L449.4 648.6 L452.4 649.4 L455.4 650.2 L458.4 651.1 L461.4 651.9 L464.4 652.7 L467.4 653.6 L470.5 654.5 L473.5 655.4 L476.5 656.3 L479.5 657.3 L482.5 658.3 L485.5 659.3 L488.5 660.3 L491.5 661.3 L494.6 662.5 L497.6 663.6 L500.6 664.8 L503.6 666 L506.6 667.2 L509.6 668.5 L512.6 669.8 L515.6 671.2 L518.7 672.5 L521.7 673.9 L524.7 675.3 L527.7 676.8 L530.7 678.2 L533.7 679.7 L536.7 681.2 L539.7 682.7 L542.8 684.2 L545.8 685.7 L548.8 687.2 L551.8 688.7 L554.8 690.3 L557.8 691.8 L560.8 693.3 L563.8 694.9 L566.9 696.4 L569.9 697.9 L572.9 699.5 L575.9 701 L578.9 702.5 L581.9 704 L584.9 705.5 L587.9 706.9 L591 708.4 L594 709.8 L597 711.2 L600 712.6 L603 714 L606 715.4 L609 716.8 L612 718.2 L615.1 719.5 L618.1 720.9 L621.1 722.3 L624.1 723.6 L627.1 725 L630.1 726.4 L633.1 727.7 L636.1 729.1 L639.2 730.4 L642.2 731.8 L645.2 733.2 L648.2 734.5 L651.2 735.9 L654.2 737.3 L657.2 738.6 L660.2 740 L663.3 741.4 L666.3 742.8 L669.3 744.2 L672.3 745.6 L675.3 747 L678.3 748.4 L681.3 749.8 L684.3 751.2 L687.4 752.7 L690.4 754.1 L693.4 755.6 L696.4 757 L699.4 758.5 L702.4 760 L705.4 761.5 L708.4 763 L711.5 764.6 L714.5 766.1 L717.5 767.7 L720.5 769.3 L723.5 770.9 L726.5 772.5 L729.5 774.1 L732.5 775.8 L735.6 777.4 L738.6 779.1 L741.6 780.8 L744.6 782.5 L747.6 784.3 L750.6 786 L753.6 787.8 L756.6 789.6 L759.7 791.3 L762.7 793.1 L765.7 794.9 L768.7 796.8 L771.7 798.6 L774.7 800.4 L777.7 802.3 L780.7 804.1 L783.8 806 L786.8 807.8 L789.8 809.7 L792.8 811.6 L795.8 813.5 L798.8 815.3 L801.8 817.2 L804.8 819.1 L807.9 821 L810.9 822.9 L813.9 824.7 L816.9 826.6 L819.9 828.5 L822.9 830.4 L825.9 832.2 L828.9 834.1 L832 836 L835 837.8 L838 839.7 L841 841.5 L844 843.4 L847 845.2 L850 847 L853 848.8 L856.1 850.6 L859.1 852.4 L862.1 854.2 L865.1 855.9 L868.1 857.7 L871.1 859.5 L874.1 861.2 L877.1 863 L880.2 864.7 L883.2 866.5 L886.2 868.2 L889.2 869.9 L892.2 871.7 L895.2 873.4 L898.2 875.2 L901.2 876.9 L904.3 878.6 L907.3 880.3 L910.3 882.1 L913.3 883.8 L916.3 885.5 L919.3 887.2 L922.3 889 L925.3 890.7 L928.4 892.4 L931.4 894.1 L934.4 895.8 L937.4 897.5 L940.4 899.3 L943.4 901 L946.4 902.7 L949.4 904.4 L952.5 906.1 L955.5 907.8 L958.5 909.6 L961.5 911.3 L964.5 913 L967.5 914.7 L970.5 916.4 L973.5 918.1 L976.6 919.9 L979.6 921.6 L982.6 923.3 L985.6 925 L988.6 926.8 L991.6 928.5 L994.6 930.2 L997.6 932 L1000.7 933.7 L1003.7 935.4 L1006.7 937.2 L1009.7 938.9 L1012.7 940.7 L1015.7 942.4 L1018.7 944.2 L1021.7 945.9 L1024.8 947.7 L1027.8 949.5 L1030.8 951.2 L1033.8 953 L1036.8 954.8 L1039.8 956.5 L1042.8 958.3 L1045.8 960.1 L1048.9 961.8 L1051.9 963.6 L1054.9 965.4 L1057.9 967.2 L1060.9 968.9 L1063.9 970.7 L1066.9 972.5 L1069.9 974.3 L1073 976 L1076 977.8 L1079 979.6 L1082 981.4 L1085 983.2 L1088 984.9 L1091 986.7 L1094 988.5 L1097.1 990.3 L1100.1 992.1 L1103.1 993.9 L1106.1 995.7 L1109.1 997.4 L1112.1 999.2 L1115.1 1001 L1118.1 1002.8 L1121.2 1004.6 L1124.2 1006.4 L1127.2 1008.2 L1130.2 1010 L1133.2 1011.8 L1136.2 1013.6 L1139.2 1015.4 L1142.2 1017.3 L1145.3 1019.1 L1148.3 1020.9 L1151.3 1022.7 L1154.3 1024.5 L1157.3 1026.3 L1160.3 1028.2 L1163.3 1030 L1166.3 1031.8 L1169.4 1033.7 L1172.4 1035.5 L1175.4 1037.3 L1178.4 1039.2 L1181.4 1041 L1184.4 1042.9 L1187.4 1044.7 L1190.4 1046.6 L1193.5 1048.4 L1196.5 1050.3 L1199.5 1052.1 L1202.5 1054 L1205.5 1055.8 L1208.5 1057.7 L1211.5 1059.6 L1214.5 1061.5 L1217.6 1063.3 L1220.6 1065.2 L1223.6 1067.1 L1226.6 1069 L1229.6 1070.9 L1232.6 1072.8 L1235.6 1074.7 L1238.6 1076.6 L1241.7 1078.5 L1244.7 1080.5 L1247.7 1082.4 L1250.7 1084.3 L1253.7 1086.2 L1256.7 1088.2 L1259.7 1090.1 L1262.7 1092 L1265.8 1094 L1268.8 1095.9 L1271.8 1097.9 L1274.8 1099.8 L1277.8 1101.7 L1280.8 1103.7 L1283.8 1105.7 L1286.8 1107.6 L1289.9 1109.6 L1292.9 1111.5 L1295.9 1113.5 L1298.9 1115.5 L1301.9 1117.4 L1304.9 1119.4 L1307.9 1121.4 L1310.9 1123.3 L1314 1125.3 L1317 1127.3 L1320 1129.2 L1323 1131.2 L1326 1133.2 L1329 1135.2 L1332 1137.1 L1335 1139.1 L1338.1 1141.1 L1341.1 1143.1 L1344.1 1145 L1347.1 1147 L1350.1 1149 L1353.1 1151 L1356.1 1153 L1359.1 1154.9 L1362.2 1156.9 L1365.2 1158.9 L1368.2 1160.8 L1371.2 1162.8 L1374.2 1164.8 L1377.2 1166.8 L1380.2 1168.7 L1383.2 1170.7 L1386.3 1172.7 L1389.3 1174.6 L1392.3 1176.6 L1395.3 1178.5 L1398.3 1180.5 L1401.3 1182.4 L1404.3 1184.4 L1407.3 1186.3 L1410.4 1188.3 L1413.4 1190.2 L1416.4 1192.2 L1419.4 1194.1 L1422.4 1196.1 L1425.4 1198 L1428.4 1200 L1431.4 1201.9 L1434.5 1203.8 L1437.5 1205.8 L1440.5 1207.7 L1443.5 1209.7 L1446.5 1211.6 L1449.5 1213.6 L1452.5 1215.5 L1455.5 1217.4 L1458.6 1219.4 L1461.6 1221.3 L1464.6 1223.3 L1467.6 1225.2 L1470.6 1227.1 L1473.6 1229.1 L1476.6 1231 L1479.6 1233 L1482.7 1234.9 L1485.7 1236.8 L1488.7 1238.8 L1491.7 1240.7 L1494.7 1242.7 L1497.7 1244.6 L1500.7 1246.5 L1503.7 1248.5 L1506.8 1250.4 L1509.8 1252.4 L1512.8 1254.3 L1515.8 1256.2 L1518.8 1258.2 L1521.8 1260.1 L1524.8 1262 L1527.8 1264 L1530.9 1265.9 L1533.9 1267.9 L1536.9 1269.8 L1539.9 1271.7 L1542.9 1273.7 L1545.9 1275.6 L1548.9 1277.5 L1551.9 1279.5 L1555 1281.4 L1558 1283.3 L1561 1285.3 L1564 1287.2 L1567 1289.2 L1570 1291.1 L1573 1293 L1576 1295 L1579.1 1296.9 L1582.1 1298.8 L1585.1 1300.8 L1588.1 1302.7 L1591.1 1304.6 L1594.1 1306.6 L1597.1 1308.5 L1600.1 1310.4 L1603.2 1312.4 L1606.2 1314.3 L1609.2 1316.2 L1612.2 1318.2 L1615.2 1320.1 L1618.2 1322 L1621.2 1323.9 L1624.2 1325.9 L1627.3 1327.8 L1630.3 1329.7 L1633.3 1331.7 L1636.3 1333.6" stroke="#00FF80" stroke-dasharray="40 26"/><path d="M241.5 617.7 L243 591.6 L244.5 592.8 L246 591.1 L247.5 592.5 L249 591.6 L250.5 593 L252 591 L253.5 592.6 L255 591.7 L256.5 591.3 L258 591 L259.5 592.7 L261 592.1 L262.5 591.4 L264 591.9 L265.5 592.8 L267 591.4 L268.5 592.1 L270 591.3 L271.5 591.4 L273 592.8 L274.5 592.9 L276 592.2 L277.5 592.4 L279 593 L280.5 594.6 L282 595 L283.5 595.2 L285 595.8 L286.5 597.4 L288 598.4 L289.5 599.4 L291 599.7 L292.5 599.7 L294 600.2 L295.5 602.4 L297 602.4 L298.5 603.8 L300 603.1 L301.5 605.3 L303 605 L304.5 606.7 L306 607.4 L307.5 607.3 L309 607.1 L310.5 609.5 L312 609.4 L313.5 610.9 L315 610.4 L316.5 611 L318 613 L319.5 612.8 L321 613.1 L322.5 614.3 L324 615.4 L325.5 615 L327 616.8 L328.5 617.4 L330 618.2 L331.5 618.2 L333 620.1 L334.5 621 L336 621.8 L337.5 621.4 L339 622.9 L340.5 623 L342 624.4 L343.5 623.7 L345 626 L346.5 626.8 L348 626.5 L349.5 627.2 L351 627.9 L352.5 628.5 L354 628 L355.5 630.5 L357 629.6 L358.5 630.1 L360 630.5 L361.5 631.4 L363 633.1 L364.5 632.1 L366 632.8 L367.5 634.6 L369 634.2 L370.5 634.4 L372 636.1 L373.5 636.6 L375 637.1 L376.5 638 L378 637.3 L379.5 639.4 L381 639.6 L382.5 638.8 L384 639.5 L385.5 640.7 L387 641.2 L388.5 641.3 L390 641.5 L391.5 642.5 L393 642.5 L394.5 643.8 L396 644.8 L397.5 643.9 L399 645.2 L400.5 645.9 L402 645.2 L403.5 647 L405 647.6 L406.5 646.9 L408 647.3 L409.5 648.6 L411 648.3 L412.5 648.4 L414 649.8 L415.5 649.8 L417 649.3 L418.5 649.4 L420 649.9 L421.5 650.4 L423 651.8 L424.5 651.7 L426 652.2 L427.5 652.3 L429 652.6 L430.5 651.3 L432 652.5 L433.5 653.6 L435 653.8 L436.5 652.7 L438 653.3 L439.5 654 L441 653.7 L442.5 654.3 L444 653.6 L445.5 654.6 L447 655 L448.5 654.3 L450 654.8 L451.5 656.7 L453 656.6 L454.5 657.2 L456 656.9 L457.5 657.6 L459 658 L460.5 658.3 L462 657 L463.5 658.5 L465 658.1 L466.5 659.3 L468 658.9 L469.5 659.8 L471 660.9 L472.5 660.7 L474 660.4 L475.5 661.3 L477 661.6 L478.5 663.1 L480 662.2 L481.5 662.6 L483 663.8 L484.5 663.2 L486 664.6 L487.5 665.8 L489 665.4 L490.5 665.4 L492 666.3 L493.5 666.9 L495 666.6 L496.5 667.1 L498 667.6 L499.5 668.4 L501 669.2 L502.5 669.5 L504 669.9 L505.5 670.2 L507 671.6 L508.5 672.7 L510 672.8 L511.5 673.3 L513 674 L514.5 673.7 L516 675.3 L517.5 675.4 L519 676.1 L520.5 676.8 L522 677.1 L523.5 677.4 L525 677.8 L526.5 678.4 L528 679.6 L529.5 679.9 L531 680.9 L532.5 680.4 L534 681.6 L535.5 683.3 L537 682.6 L538.5 683.9 L540 684.4 L541.5 684.6 L543 686.6 L544.5 685.8 L546 687.4 L547.5 686.8 L549 687.2 L550.5 689.4 L552 689.2 L553.5 689 L555 690.3 L556.5 691 L558 692.2 L559.5 691.6 L561 692.4 L562.5 694.5 L564 694.7 L565.5 694.1 L567 695.1 L568.5 695.7 L570 697 L571.5 697.5 L573 698.5 L574.5 699.1 L576 699.1 L577.5 700.1 L579 700.7 L580.5 701.4 L582 701.4 L583.5 702.6 L585 703 L586.5 704.1 L588 703.1 L589.5 705.2 L591 704.1 L592.5 706.2 L594 706.4 L595.5 706.9 L597 708.4 L598.5 708.3 L600 708.6 L601.5 709.9 L603 710.7 L604.5 710.8 L606 711 L607.5 711.7 L609 712.4 L610.5 713.5 L612 713.3 L613.5 714.1 L615 715.1 L616.5 715.4 L618 715.9 L619.5 717.4 L621 718.2 L622.5 718.1 L624 718.7 L625.5 718.8 L627 719.7 L628.5 720 L630 721.5 L631.5 722.2 L633 721.8 L634.5 724.1 L636 723.6 L637.5 725.3 L639 725.9 L640.5 726.8 L642 726 L643.5 727.1 L645 728.7 L646.5 727.5 L648 728.3 L649.5 730 L651 730.5 L652.5 732 L654 732.4 L655.5 732.6 L657 734.1 L658.5 733.8 L660 734.5 L661.5 735.5 L663 735.6 L664.5 736.2 L666 737.3 L667.5 737.5 L669 739.4 L670.5 739.5 L672 739.9 L673.5 739.7 L675 740.9 L676.5 741.7 L678 742.7 L679.5 743.4 L681 744.7 L682.5 745.5 L684 745.2 L685.5 745.8 L687 746.9 L688.5 748.3 L690 747.7 L691.5 748.8 L693 750 L694.5 749.4 L696 750.4 L697.5 752.4 L699 752.8 L700.5 752.9 L702 752.8 L703.5 755 L705 755.3 L706.5 756.3 L708 757.3 L709.5 757.8 L711 757.6 L712.5 757.8 L714 758.7 L715.5 759.9 L717 760.6 L718.5 760.7 L720 761.4 L721.5 763 L723 763.7 L724.5 763.9 L726 765.9 L727.5 765.9 L729 765.4 L730.5 766.9 L732 768.4 L733.5 768.1 L735 769.6 L736.5 769 L738 770.3 L739.5 772.1 L741 772.3 L742.5 773.2 L744 773 L745.5 774.3 L747 775.2 L748.5 775.4 L750 776.9 L751.5 777.4 L753 779 L754.5 778.9 L756 779.3 L757.5 779.5 L759 780.3 L760.5 782.3 L762 781.7 L763.5 782.4 L765 783.3 L766.5 784.8 L768 786.1 L769.5 786.4 L771 787.6 L772.5 786.8 L774 787.5 L775.5 789.7 L777 789.6 L778.5 791.1 L780 791.2 L781.5 791.5 L783 792.5 L784.5 792.9 L786 795.3 L787.5 795.4 L789 795.7 L790.5 796.6 L792 797.2 L793.5 797.3 L795 799.7 L796.5 799.9 L798 801.4 L799.5 801.1 L801 802.2 L802.5 802.2 L804 802.6 L805.5 805.1 L807 805.7 L808.5 805.4 L810 807.3 L811.5 807.9 L813 807.6 L814.5 809 L816 810.4 L817.5 810.3 L819 811.9 L820.5 811.3 L822 812.3 L823.5 813.7 L825 813.5 L826.5 814.4 L828 816.3 L829.5 816.3 L831 817.6 L832.5 817.3 L834 817.9 L835.5 819 L837 819.4 L838.5 821.7 L840 821.1 L841.5 822.4 L843 822.3 L844.5 823.9 L846 824.4 L847.5 825.1 L849 825.2 L850.5 826.1 L852 828.3 L853.5 828.1 L855 828.6 L856.5 829.3 L858 830.2 L859.5 830.9 L861 831.3 L862.5 833.3 L864 833.4 L865.5 833.8 L867 835.7 L868.5 835.2 L870 836.4 L871.5 838.3 L873 837.6 L874.5 839.1 L876 840.6 L877.5 841.3 L879 840.8 L880.5 842 L882 843.5 L883.5 843.6 L885 845.6 L886.5 844.9 L888 847.2 L889.5 847.1 L891 847.3 L892.5 848.6 L894 848.8 L895.5 850.7 L897 850.6 L898.5 852.7 L900 852.9 L901.5 853.3 L903 853.9 L904.5 855.4 L906 855.4 L907.5 857.6 L909 856.9 L910.5 858.6 L912 859.5 L913.5 859.7 L915 861.6 L916.5 861.7 L918 863.1 L919.5 863.8 L921 864.1 L922.5 865.1 L924 865.3 L925.5 866.4 L927 868.7 L928.5 868.5 L930 870.1 L931.5 869.8 L933 871.6 L934.5 872.1 L936 873.3 L937.5 873.7 L939 874.1 L940.5 875.6 L942 876.3 L943.5 877 L945 879.2 L946.5 879.2 L948 880.4 L949.5 882.4 L951 883.1 L952.5 884.2 L954 885.1 L955.5 884.3 L957 885.6 L958.5 886 L960 888.4 L961.5 889.3 L963 889.5 L964.5 890.6 L966 892.1 L967.5 893.2 L969 893 L970.5 895.4 L972 895.2 L973.5 896.8 L975 896.7 L976.5 897.4 L978 900.3 L979.5 900.8 L981 901.7 L982.5 901 L984 902 L985.5 903.2 L987 904.3 L988.5 905.5 L990 906.6 L991.5 906.7 L993 908.3 L994.5 910.1 L996 909.9 L997.5 912.5 L999 912.8 L1000.5 914.1 L1002 913.9 L1003.5 915.3 L1005 916.9 L1006.5 917 L1008 917 L1009.5 920.1 L1011 920.9 L1012.5 920.6 L1014 920.9 L1015.5 923.9 L1017 924.2 L1018.5 923.7 L1020 925.1 L1021.5 925.7 L1023 928.5 L1024.5 927.8 L1026 930.6 L1027.5 931.1 L1029 930.2 L1030.5 932.8 L1032 932.9 L1033.5 934.8 L1035 935.9 L1036.5 935.3 L1038 935.7 L1039.5 939 L1041 938.5 L1042.5 940.8 L1044 941 L1045.5 942.1 L1047 943.3 L1048.5 943.6 L1050 944 L1051.5 943.8 L1053 946.5 L1054.5 946.7 L1056 947.8 L1057.5 949.9 L1059 948.5 L1060.5 951.3 L1062 950.1 L1063.5 952.9 L1065 954.1 L1066.5 953.4 L1068 955.2 L1069.5 957.3 L1071 957.3 L1072.5 957.9 L1074 957.9 L1075.5 958.3 L1077 960.1 L1078.5 961.1 L1080 961.4 L1081.5 962.6 L1083 963 L1084.5 965.6 L1086 966.4 L1087.5 966 L1089 966.9 L1090.5 968.7 L1092 969.4 L1093.5 971.8 L1095 970.9 L1096.5 971.7 L1098 974.4 L1099.5 973 L1101 975.2 L1102.5 975.4 L1104 977.8 L1105.5 977.9 L1107 979.5 L1108.5 978.5 L1110 981 L1111.5 981.7 L1113 982.2 L1114.5 984.1 L1116 985.2 L1117.5 983.8 L1119 985.3 L1120.5 986.5 L1122 986.9 L1123.5 987.3 L1125 989 L1126.5 989.6 L1128 992.2 L1129.5 992.3 L1131 992.1 L1132.5 993.8 L1134 995.2 L1135.5 995.7 L1137 996 L1138.5 996.6 L1140 997.4 L1141.5 1001.6 L1143 1001.7 L1144.5 1000.4 L1146 1003.5 L1147.5 1005.3 L1149 1004.9 L1150.5 1004.3 L1152 1006.5 L1153.5 1007.3 L1155 1007.4 L1156.5 1009.6 L1158 1008.7 L1159.5 1012.8 L1161 1012.8 L1162.5 1013.7 L1164 1015.7 L1165.5 1015.7 L1167 1015.2 L1168.5 1016.2 L1170 1016.8 L1171.5 1017.3 L1173 1021 L1174.5 1022.2 L1176 1021.2 L1177.5 1021.8 L1179 1024.3 L1180.5 1026.1 L1182 1027.3 L1183.5 1025.6 L1185 1028.8 L1186.5 1029.9 L1188 1030.6 L1189.5 1030 L1191 1030.5 L1192.5 1033.8 L1194 1032.9 L1195.5 1034.1 L1197 1035.7 L1198.5 1036 L1200 1038.7 L1201.5 1037.5 L1203 1037.7 L1204.5 1040.6 L1206 1041.8 L1207.5 1043.5 L1209 1044.1 L1210.5 1045.8 L1212 1046.9 L1213.5 1046.2 L1215 1047.2 L1216.5 1046.9 L1218 1048.4 L1219.5 1050.4 L1221 1049.5 L1222.5 1052.8 L1224 1051.7 L1225.5 1053.7 L1227 1056.7 L1228.5 1054.3 L1230 1055.1 L1231.5 1057.6 L1233 1057.6 L1234.5 1060.6 L1236 1058.7 L1237.5 1063 L1239 1064 L1240.5 1064.7 L1242 1064.2 L1243.5 1064.6 L1245 1067 L1246.5 1067.4 L1248 1068 L1249.5 1068.6 L1251 1069.9 L1252.5 1071.8 L1254 1073.3 L1255.5 1074.6 L1257 1072.5 L1258.5 1074 L1260 1075.5 L1261.5 1077 L1263 1077 L1264.5 1077.3 L1266 1077.8 L1267.5 1079.7 L1269 1081.2 L1270.5 1084.2 L1272 1084.9 L1273.5 1085.7 L1275 1087 L1276.5 1087.9 L1278 1087.4 L1279.5 1089.1 L1281 1086.9 L1282.5 1090.4 L1284 1091.1 L1285.5 1090.7 L1287 1092.8 L1288.5 1095.3 L1290 1094.2 L1291.5 1095.9 L1293 1095.3 L1294.5 1096.4 L1296 1099.6 L1297.5 1096.9 L1299 1098.5 L1300.5 1101.5 L1302 1101.4 L1303.5 1100.8 L1305 1104.2 L1306.5 1103.9 L1308 1105.7 L1309.5 1105.9 L1311 1107.3 L1312.5 1108.4 L1314 1108.5 L1315.5 1108.2 L1317 1109.4 L1318.5 1113.4 L1320 1112.8 L1321.5 1111.8 L1323 1116 L1324.5 1114.2 L1326 1114.4 L1327.5 1117.3 L1329 1116.9 L1330.5 1118.9 L1332 1120.1 L1333.5 1119.5 L1335 1122 L1336.5 1120.8 L1338 1123.5 L1339.5 1124.7 L1341 1123.3 L1342.5 1125.7 L1344 1125.1 L1345.5 1127.6 L1347 1130.5 L1348.5 1129.9 L1350 1131.6 L1351.5 1132.6 L1353 1130.6 L1354.5 1135.5 L1356 1135.1 L1357.5 1133.2 L1359 1137.4 L1360.5 1136.3 L1362 1136.1 L1363.5 1140.7 L1365 1139.7 L1366.5 1141.6 L1368 1139.5 L1369.5 1143.3 L1371 1140.8 L1372.5 1142.5 L1374 1144 L1375.5 1143.2 L1377 1146.8 L1378.5 1145.8 L1380 1147.1 L1381.5 1149.8 L1383 1149.4 L1384.5 1152.4 L1386 1152 L1387.5 1154 L1389 1153.3 L1390.5 1155.9 L1392 1156.5 L1393.5 1153.9 L1395 1157.5 L1396.5 1156.4 L1398 1159.2 L1399.5 1159.7 L1401 1161.2 L1402.5 1158.6 L1404 1160.6 L1405.5 1163.2 L1407 1165 L1408.5 1164.8 L1410 1162.3 L1411.5 1165.8 L1413 1164.2 L1414.5 1167.2 L1416 1169.2 L1417.5 1166.6 L1419 1171.5 L1420.5 1171 L1422 1169.8 L1423.5 1170.3 L1425 1172.4 L1426.5 1175.1 L1428 1174.7 L1429.5 1173.2 L1431 1173.5 L1432.5 1174.8 L1434 1179 L1435.5 1176.8 L1437 1179.5 L1438.5 1179 L1440 1181.8 L1441.5 1181.1 L1443 1180.7 L1444.5 1185.3 L1446 1184.4 L1447.5 1186 L1449 1187.5 L1450.5 1189.1 L1452 1185.2 L1453.5 1187.7 L1455 1187.6 L1456.5 1190.2 L1458 1193 L1459.5 1193.5 L1461 1190.5 L1462.5 1192.1 L1464 1196.3 L1465.5 1196.4 L1467 1195.9 L1468.5 1197.2 L1470 1196.5 L1471.5 1200.9 L1473 1199.5 L1474.5 1202.9 L1476 1202.5 L1477.5 1200.6 L1479 1202.9 L1480.5 1203.3 L1482 1207.8 L1483.5 1207.1 L1485 1205.2 L1486.5 1206.9 L1488 1208.9 L1489.5 1210.4 L1491 1212 L1492.5 1212 L1494 1212.8 L1495.5 1212 L1497 1216 L1498.5 1215.7 L1500 1215.1 L1501.5 1218.5 L1503 1222.3 L1504.5 1218.3 L1506 1219.9 L1507.5 1223.8 L1509 1222.7 L1510.5 1223.7 L1512 1226 L1513.5 1225.8 L1515 1228.5 L1516.5 1229.4 L1518 1232.8 L1519.5 1234.1 L1521 1229.9 L1522.5 1233.9 L1524 1236.1 L1525.5 1237.8 L1527 1238.3 L1528.5 1238.7 L1530 1239.8 L1531.5 1239.3 L1533 1240 L1534.5 1244 L1536 1245.5 L1537.5 1247 L1539 1246.6 L1540.5 1245.6 L1542 1249.3 L1543.5 1250.3 L1545 1250.1 L1546.5 1251.9 L1548 1251.4 L1549.5 1253.7 L1551 1254 L1552.5 1253.1 L1554 1255.8 L1555.5 1256.8 L1557 1261.8 L1558.5 1260 L1560 1260.4 L1561.5 1260.8 L1563 1261.9 L1564.5 1263.6 L1566 1263.5 L1567.5 1263.8 L1569 1270 L1570.5 1268.6 L1572 1269.7 L1573.5 1271.5 L1575 1271 L1576.5 1271.3 L1578 1271.8 L1579.5 1274.3 L1581 1275.4 L1582.5 1278.9 L1584 1279 L1585.5 1282.3 L1587 1279.9 L1588.5 1284.4 L1590 1283.4 L1591.5 1281.6 L1593 1283.2 L1594.5 1286.6 L1596 1290 L1597.5 1287.4 L1599 1290.9 L1600.5 1289.9 L1602 1293.5 L1603.5 1289.9 L1605 1293.4 L1606.5 1296.9 L1608 1294.3 L1609.5 1295.2 L1611 1294.9 L1612.5 1296.8 L1614 1298.4 L1615.5 1302.5 L1617 1299.4 L1618.5 1302 L1620 1300.9 L1621.5 1306.2 L1623 1310.3 L1624.5 1309 L1626 1304.2 L1627.5 1312.4 L1629 1316.9 L1630.5 1312.8 L1632 1305.7 L1633.5 1318.5 L1635 1320.9 L1636.5 1312.7 L1638 1309.8 L1639.5 1311.6 L1641 1319.4 L1642.5 1327.4 L1644 1323.7 L1645.5 1331 L1647 1316.3 L1648.5 1319.8 L1650 1330.8 L1651.5 1329.6 L1653 1324.5 L1654.5 1332.6 L1656 1324.7 L1657.5 1317.9 L1659 1328.7 L1660.5 1319 L1662 1336.9 L1663.5 1329.2 L1665 1335.1 L1666.5 1339.4 L1668 1329.5 L1669.5 1337.1 L1671 1323 L1672.5 1355 L1674 1343.7 L1675.5 1359.9 L1677 1327.4 L1678.5 1348.8 L1680 1354 L1681.5 1340 L1683 1331.7 L1684.5 1335" stroke="#00FF80" /><rect x="1332.2" y="1151.5" width="32.8" height="32.8" stroke="#00FF80" stroke-width="6.9" stroke-linejoin="miter"/><rect x="1088" y="992.8" width="32.8" height="32.8" stroke="#00FF80" stroke-width="6.9" stroke-linejoin="miter"/><rect x="897.6" y="875.2" width="32.8" height="32.8" stroke="#00FF80" stroke-width="6.9" stroke-linejoin="miter"/><rect x="749.3" y="783.7" width="32.8" height="32.8" stroke="#00FF80" stroke-width="6.9" stroke-linejoin="miter"/><rect x="633.7" y="716.4" width="32.8" height="32.8" stroke="#00FF80" stroke-width="6.9" stroke-linejoin="miter"/><rect x="543.5" y="672.6" width="32.8" height="32.8" stroke="#00FF80" stroke-width="6.9" stroke-linejoin="miter"/><rect x="473.3" y="644.6" width="32.8" height="32.8" stroke="#00FF80" stroke-width="6.9" stroke-linejoin="miter"/><rect x="418.6" y="628.6" width="32.8" height="32.8" stroke="#00FF80" stroke-width="6.9" stroke-linejoin="miter"/><rect x="375.9" y="616.6" width="32.8" height="32.8" stroke="#00FF80" stroke-width="6.9" stroke-linejoin="miter"/><rect x="342.6" y="609.6" width="32.8" height="32.8" stroke="#00FF80" stroke-width="6.9" stroke-linejoin="miter"/><rect x="316.7" y="600.6" width="32.8" height="32.8" stroke="#00FF80" stroke-width="6.9" stroke-linejoin="miter"/><rect x="296.5" y="589.7" width="32.8" height="32.8" stroke="#00FF80" stroke-width="6.9" stroke-linejoin="miter"/><rect x="280.7" y="580.6" width="32.8" height="32.8" stroke="#00FF80" stroke-width="6.9" stroke-linejoin="miter"/><rect x="268.5" y="575.6" width="32.8" height="32.8" stroke="#00FF80" stroke-width="6.9" stroke-linejoin="miter"/><rect x="258.9" y="571.6" width="32.8" height="32.8" stroke="#00FF80" stroke-width="6.9" stroke-linejoin="miter"/><rect x="251.4" y="569.4" width="32.8" height="32.8" stroke="#00FF80" stroke-width="6.9" stroke-linejoin="miter"/><rect x="245.6" y="567.7" width="32.8" height="32.8" stroke="#00FF80" stroke-width="6.9" stroke-linejoin="miter"/><rect x="241.1" y="566.3" width="32.8" height="32.8" stroke="#00FF80" stroke-width="6.9" stroke-linejoin="miter"/><rect x="237.6" y="565.3" width="32.8" height="32.8" stroke="#00FF80" stroke-width="6.9" stroke-linejoin="miter"/><rect x="234.8" y="564.7" width="32.8" height="32.8" stroke="#00FF80" stroke-width="6.9" stroke-linejoin="miter"/><rect x="232.7" y="564.2" width="32.8" height="32.8" stroke="#00FF80" stroke-width="6.9" stroke-linejoin="miter"/><rect x="231" y="563.8" width="32.8" height="32.8" stroke="#00FF80" stroke-width="6.9" stroke-linejoin="miter"/><rect x="229.7" y="563.5" width="32.8" height="32.8" stroke="#00FF80" stroke-width="6.9" stroke-linejoin="miter"/><rect x="228.7" y="563.3" width="32.8" height="32.8" stroke="#00FF80" stroke-width="6.9" stroke-linejoin="miter"/><rect x="227.9" y="563.1" width="32.8" height="32.8" stroke="#00FF80" stroke-width="6.9" stroke-linejoin="miter"/><rect x="227.3" y="563" width="32.8" height="32.8" stroke="#00FF80" stroke-width="6.9" stroke-linejoin="miter"/><rect x="226.8" y="562.9" width="32.8" height="32.8" stroke="#00FF80" stroke-width="6.9" stroke-linejoin="miter"/><rect x="226.4" y="562.8" width="32.8" height="32.8" stroke="#00FF80" stroke-width="6.9" stroke-linejoin="miter"/><rect x="226.1" y="562.8" width="32.8" height="32.8" stroke="#00FF80" stroke-width="6.9" stroke-linejoin="miter"/><rect x="225.9" y="562.7" width="32.8" height="32.8" stroke="#00FF80" stroke-width="6.9" stroke-linejoin="miter"/><rect x="225.7" y="562.7" width="32.8" height="32.8" stroke="#00FF80" stroke-width="6.9" stroke-linejoin="miter"/><rect x="225.6" y="562.7" width="32.8" height="32.8" stroke="#00FF80" stroke-width="6.9" stroke-linejoin="miter"/><rect x="225.5" y="562.7" width="32.8" height="32.8" stroke="#00FF80" stroke-width="6.9" stroke-linejoin="miter"/><path d="M230.5 569L252.5 591M230.5 591L252.5 569" stroke="#00FF80" stroke-width="6.9"/><path d="M241.4 571.3L263.4 593.3M241.4 593.3L263.4 571.3" stroke="#00FF80" stroke-width="6.9"/><path d="M271.4 581.2L293.4 603.2M271.4 603.2L293.4 581.2" stroke="#00FF80" stroke-width="6.9"/><path d="M320.6 605L342.6 627M320.6 627L342.6 605" stroke="#00FF80" stroke-width="6.9"/><path d="M388.9 625L410.9 647M388.9 647L410.9 625" stroke="#00FF80" stroke-width="6.9"/><path d="M476.4 648.9L498.4 670.9M476.4 670.9L498.4 648.9" stroke="#00FF80" stroke-width="6.9"/><path d="M583.1 698.8L605.1 720.8M583.1 720.8L605.1 698.8" stroke="#00FF80" stroke-width="6.9"/><path d="M708.9 757.9L730.9 779.9M708.9 779.9L730.9 757.9" stroke="#00FF80" stroke-width="6.9"/><path d="M853.9 844.8L875.9 866.8M853.9 866.8L875.9 844.8" stroke="#00FF80" stroke-width="6.9"/><path d="M1018 939.2L1040 961.2M1018 961.2L1040 939.2" stroke="#00FF80" stroke-width="6.9"/><path d="M1201.3 1049.1L1223.3 1071.1M1201.3 1071.1L1223.3 1049.1" stroke="#00FF80" stroke-width="6.9"/><path d="M1403.8 1180.2L1425.8 1202.2M1403.8 1202.2L1425.8 1180.2" stroke="#00FF80" stroke-width="6.9"/><path d="M1625.4 1322.7L1647.4 1344.7M1625.4 1344.7L1647.4 1322.7" stroke="#00FF80" stroke-width="6.9"/><circle cx="241.5" cy="618.5" r="21" stroke="#00FF80" stroke-width="6.9"/><circle cx="354.1" cy="629" r="21" stroke="#00FF80" stroke-width="6.9"/><circle cx="466.7" cy="659" r="21" stroke="#00FF80" stroke-width="6.9"/><circle cx="579.3" cy="700.3" r="21" stroke="#00FF80" stroke-width="6.9"/><circle cx="691.8" cy="748.8" r="21" stroke="#00FF80" stroke-width="6.9"/><circle cx="804.4" cy="803.7" r="21" stroke="#00FF80" stroke-width="6.9"/><circle cx="917" cy="862.2" r="21" stroke="#00FF80" stroke-width="6.9"/><circle cx="1029.6" cy="931.7" r="21" stroke="#00FF80" stroke-width="6.9"/><circle cx="1142.2" cy="1000.4" r="21" stroke="#00FF80" stroke-width="6.9"/><circle cx="1254.8" cy="1072.5" r="21" stroke="#00FF80" stroke-width="6.9"/><circle cx="1367.4" cy="1140.8" r="21" stroke="#00FF80" stroke-width="6.9"/><circle cx="1479.9" cy="1204.4" r="21" stroke="#00FF80" stroke-width="6.9"/><circle cx="1592.5" cy="1284.7" r="21" stroke="#00FF80" stroke-width="6.9"/></g>
</g>
<g font-family="&quot;Liberation Sans&quot;, Arial, sans-serif" font-size="72.5" fill="#262626">
<text x="205.6" y="79.8" text-anchor="end">2</text>
<text x="205.6" y="251.5" text-anchor="end">1</text>
<text x="205.6" y="423.2" text-anchor="end">0</text>
<text y="594.9"><tspan x="143.4">−</tspan><tspan x="223" text-anchor="end">1</tspan></text>
<text y="766.6"><tspan x="143.4">−</tspan><tspan x="223" text-anchor="end">2</tspan></text>
<text y="938.2"><tspan x="143.4">−</tspan><tspan x="223" text-anchor="end">3</tspan></text>
<text y="1109.9"><tspan x="143.4">−</tspan><tspan x="223" text-anchor="end">4</tspan></text>
<text y="1281.6"><tspan x="143.4">−</tspan><tspan x="223" text-anchor="end">5</tspan></text>
<text y="1453.3"><tspan x="143.4">−</tspan><tspan x="223" text-anchor="end">6</tspan></text>
<text x="236.5" y="1523" text-anchor="middle">0</text>
<text x="588.6" y="1523" text-anchor="middle">10</text>
<text x="943.2" y="1523" text-anchor="middle">20</text>
<text x="1297.8" y="1523" text-anchor="middle">30</text>
<text x="1652.4" y="1523" text-anchor="middle">40</text>
<text x="2007" y="1523" text-anchor="middle">50</text>
</g>
<g font-family="&quot;Liberation Sans&quot;, Arial, sans-serif" fill="#262626">
<text transform="translate(902.8 1625.1) scale(0.976 1)" x="-6.5" y="0" font-size="80">Energy (eV)</text>
<text transform="translate(106.5 1138) rotate(-90) scale(0.974 1)" x="-5.4" y="0" font-size="80">log10(EEDF (eV</text>
<text transform="translate(69.5 530) rotate(-90)" x="-2.7" y="0" font-size="61">-3/2</text>
<text transform="translate(106.5 405) rotate(-90) scale(0.967 1)" x="-0.5" y="0" font-size="80">))</text>
</g>
<g font-family="&quot;Liberation Sans&quot;, Arial, sans-serif" fill="#000">
<text x="1246" y="178" font-size="71" font-weight="bold">Electric Field (Td)</text>
<rect x="1336" y="256" width="164" height="7" fill="#0000FF"/>
<text x="1511" y="284" font-size="71">1</text>
<rect x="1336" y="348" width="164" height="7" fill="#0040DF"/>
<text x="1511" y="376" font-size="71">75</text>
<rect x="1336" y="440" width="164" height="7" fill="#0080BF"/>
<text x="1511" y="468" font-size="71">150</text>
<rect x="1336" y="531" width="164" height="7" fill="#00BF9F"/>
<text x="1511" y="559" font-size="71">225</text>
<rect x="1336" y="623" width="164" height="7" fill="#00FF80"/>
<text x="1511" y="651" font-size="71">300</text>
<path fill="none" d="M1406.2 706.2L1429.8 729.8M1406.2 729.8L1429.8 706.2" stroke="#0072BD" stroke-width="3.8"/>
<circle fill="none" cx="1418" cy="810" r="22" stroke="#0072BD" stroke-width="3.6"/>
<rect fill="none" x="1402" y="886" width="32" height="32" stroke="#0072BD" stroke-width="3.6" stroke-linejoin="miter"/>
<text x="1511" y="743" font-size="71">Bolsig</text>
<text x="1511" y="835" font-size="71">METHES</text>
<text x="1511" y="927" font-size="71">This Work</text>
</g>
</svg>
</body></html>
